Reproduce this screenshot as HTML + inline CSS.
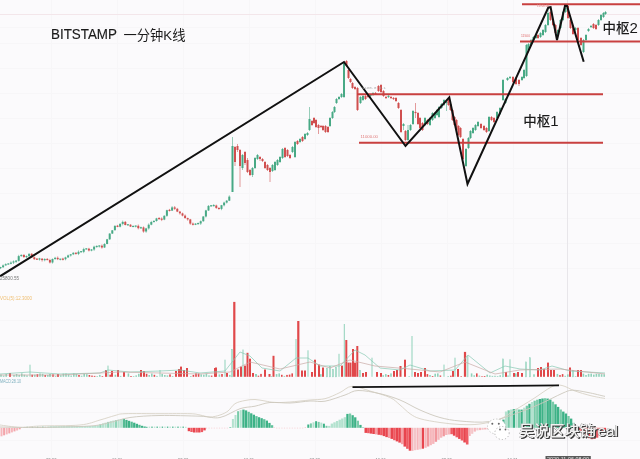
<!DOCTYPE html>
<html><head><meta charset="utf-8"><style>
html,body{margin:0;padding:0;background:#fbfafc;}
#wrap{position:relative;width:640px;height:459px;overflow:hidden;background:#fbfafc;}
.t{position:absolute;white-space:nowrap;font-family:"Liberation Sans","Noto Sans CJK SC",sans-serif;color:#1a1a1a;}
.wm{position:absolute;white-space:nowrap;font-family:"Liberation Sans","Noto Sans CJK SC",sans-serif;color:#f2f2f2;
  text-shadow:1px 1px 0 #3c3c3c,1.4px 1.4px 0.3px #555,-0.4px -0.4px 0 #9a9a9a;}
</style></head><body><div id="wrap">
<svg width="640" height="459" viewBox="0 0 640 459" style="position:absolute;left:0;top:0"><rect width="640" height="459" fill="#fbfafc"/><line x1="51.5" y1="0" x2="51.5" y2="459" stroke="#f7f6f8" stroke-width="1"/><line x1="117.5" y1="0" x2="117.5" y2="459" stroke="#f7f6f8" stroke-width="1"/><line x1="183.5" y1="0" x2="183.5" y2="459" stroke="#f7f6f8" stroke-width="1"/><line x1="249.5" y1="0" x2="249.5" y2="459" stroke="#f7f6f8" stroke-width="1"/><line x1="315.5" y1="0" x2="315.5" y2="459" stroke="#f7f6f8" stroke-width="1"/><line x1="381.5" y1="0" x2="381.5" y2="459" stroke="#f7f6f8" stroke-width="1"/><line x1="447.5" y1="0" x2="447.5" y2="459" stroke="#f7f6f8" stroke-width="1"/><line x1="513.5" y1="0" x2="513.5" y2="459" stroke="#f7f6f8" stroke-width="1"/><line x1="0" y1="27.5" x2="640" y2="27.5" stroke="#f7f6f8" stroke-width="1"/><line x1="0" y1="43.5" x2="640" y2="43.5" stroke="#f7f6f8" stroke-width="1"/><line x1="0" y1="68.5" x2="640" y2="68.5" stroke="#f7f6f8" stroke-width="1"/><line x1="0" y1="93.5" x2="640" y2="93.5" stroke="#f7f6f8" stroke-width="1"/><line x1="0" y1="118.5" x2="640" y2="118.5" stroke="#f7f6f8" stroke-width="1"/><line x1="0" y1="143.5" x2="640" y2="143.5" stroke="#f7f6f8" stroke-width="1"/><line x1="0" y1="168.5" x2="640" y2="168.5" stroke="#f7f6f8" stroke-width="1"/><line x1="0" y1="193.5" x2="640" y2="193.5" stroke="#f7f6f8" stroke-width="1"/><line x1="0" y1="218.5" x2="640" y2="218.5" stroke="#f7f6f8" stroke-width="1"/><line x1="0" y1="243.5" x2="640" y2="243.5" stroke="#f7f6f8" stroke-width="1"/><line x1="0" y1="268.5" x2="640" y2="268.5" stroke="#f7f6f8" stroke-width="1"/><line x1="0" y1="320.5" x2="640" y2="320.5" stroke="#f7f6f8" stroke-width="1"/><line x1="0" y1="345.5" x2="640" y2="345.5" stroke="#f7f6f8" stroke-width="1"/><line x1="0" y1="398.5" x2="640" y2="398.5" stroke="#f7f6f8" stroke-width="1"/><line x1="0" y1="412.5" x2="640" y2="412.5" stroke="#f7f6f8" stroke-width="1"/><line x1="0" y1="440.5" x2="640" y2="440.5" stroke="#f7f6f8" stroke-width="1"/><line x1="0" y1="14.5" x2="640" y2="14.5" stroke="#f3e6ea" stroke-width="1.2"/><line x1="567.5" y1="0" x2="567.5" y2="459" stroke="#e8e6ea" stroke-width="1"/><rect x="9.0" y="373.0" width="2" height="3.8" fill="#e0484a"/><rect x="29.5" y="364.7" width="1" height="12.1" fill="#8fd2ba"/><rect x="49.0" y="374.0" width="2" height="2.8" fill="#8fd2ba"/><rect x="57.0" y="374.0" width="2" height="2.8" fill="#e0484a"/><rect x="107.5" y="365.6" width="1" height="11.2" fill="#8fd2ba"/><rect x="105.0" y="370.0" width="2" height="6.8" fill="#e0484a"/><rect x="111.0" y="371.0" width="2" height="5.8" fill="#e0484a"/><rect x="117.0" y="370.0" width="2" height="6.8" fill="#e0484a"/><rect x="123.0" y="372.0" width="2" height="4.8" fill="#e0484a"/><rect x="140.0" y="370.0" width="2" height="6.8" fill="#e0484a"/><rect x="143.0" y="371.0" width="2" height="5.8" fill="#e0484a"/><rect x="159.5" y="370.0" width="1" height="6.8" fill="#8fd2ba"/><rect x="175.0" y="371.0" width="2" height="5.8" fill="#e0484a"/><rect x="178.0" y="369.0" width="2" height="7.8" fill="#e0484a"/><rect x="180.0" y="366.6" width="2" height="10.2" fill="#e0484a"/><rect x="183.0" y="370.0" width="2" height="6.8" fill="#e0484a"/><rect x="186.0" y="368.0" width="2" height="8.8" fill="#e0484a"/><rect x="214.0" y="368.0" width="2" height="8.8" fill="#e0484a"/><rect x="215.0" y="367.5" width="2" height="9.3" fill="#e0484a"/><rect x="224.5" y="359.7" width="1" height="17.1" fill="#8fd2ba"/><rect x="226.0" y="373.0" width="2" height="3.8" fill="#e0484a"/><rect x="231.6" y="349.3" width="0.9" height="27.5" fill="#e2f3ec" stroke="#86cdb5" stroke-width="0.6"/><rect x="233.2" y="301.9" width="2.2" height="74.9" fill="#e0484a"/><rect x="237.0" y="369.5" width="2" height="7.3" fill="#e0484a"/><rect x="240.0" y="366.6" width="2" height="10.2" fill="#e0484a"/><rect x="242.5" y="349.5" width="1" height="27.3" fill="#8fd2ba"/><rect x="244.0" y="365.6" width="2" height="11.2" fill="#e0484a"/><rect x="246.5" y="352.8" width="2" height="24.0" fill="#e0484a"/><rect x="249.0" y="358.7" width="2" height="18.1" fill="#e0484a"/><rect x="252.0" y="373.0" width="2" height="3.8" fill="#e0484a"/><rect x="255.0" y="374.0" width="2" height="2.8" fill="#8fd2ba"/><rect x="264.0" y="369.5" width="2" height="7.3" fill="#e0484a"/><rect x="268.5" y="374.0" width="2" height="2.8" fill="#e0484a"/><rect x="272.5" y="355.8" width="2" height="21.0" fill="#e0484a"/><rect x="295.5" y="339.0" width="1" height="37.8" fill="#8fd2ba"/><rect x="297.2" y="321.0" width="2.2" height="55.8" fill="#e0484a"/><rect x="301.0" y="370.5" width="2" height="6.3" fill="#e0484a"/><rect x="304.0" y="370.5" width="2" height="6.3" fill="#e0484a"/><rect x="307.5" y="350.3" width="1" height="26.5" fill="#8fd2ba"/><rect x="311.0" y="372.0" width="2" height="4.8" fill="#e0484a"/><rect x="314.0" y="359.7" width="2" height="17.1" fill="#e0484a"/><rect x="318.0" y="364.6" width="2" height="12.2" fill="#e0484a"/><rect x="322.0" y="367.5" width="2" height="9.3" fill="#e0484a"/><rect x="326.3" y="368.3" width="1.4" height="8.5" fill="#e2f3ec" stroke="#86cdb5" stroke-width="0.6"/><rect x="329.3" y="366.3" width="1.4" height="10.5" fill="#e2f3ec" stroke="#86cdb5" stroke-width="0.6"/><rect x="332.3" y="369.3" width="1.4" height="7.5" fill="#e2f3ec" stroke="#86cdb5" stroke-width="0.6"/><rect x="335.3" y="367.3" width="1.4" height="9.5" fill="#e2f3ec" stroke="#86cdb5" stroke-width="0.6"/><rect x="338.5" y="353.8" width="1" height="23.0" fill="#8fd2ba"/><rect x="341.0" y="365.6" width="2" height="11.2" fill="#e0484a"/><rect x="343.8" y="324.0" width="1" height="52.8" fill="#8fd2ba"/><rect x="345.3" y="340.0" width="2" height="36.8" fill="#e0484a"/><rect x="347.5" y="362.6" width="2" height="14.2" fill="#e0484a"/><rect x="349.5" y="362.6" width="2" height="14.2" fill="#e0484a"/><rect x="352.0" y="349.0" width="2" height="27.8" fill="#e0484a"/><rect x="354.0" y="362.6" width="2" height="14.2" fill="#e0484a"/><rect x="356.3" y="346.0" width="2" height="30.8" fill="#e0484a"/><rect x="359.3" y="370.3" width="1.4" height="6.5" fill="#e2f3ec" stroke="#86cdb5" stroke-width="0.6"/><rect x="362.0" y="373.0" width="2" height="3.8" fill="#e0484a"/><rect x="365.0" y="372.0" width="2" height="4.8" fill="#e0484a"/><rect x="371.5" y="357.7" width="1" height="19.1" fill="#8fd2ba"/><rect x="376.0" y="372.0" width="2" height="4.8" fill="#e0484a"/><rect x="380.0" y="373.0" width="2" height="3.8" fill="#e0484a"/><rect x="393.0" y="371.0" width="2" height="5.8" fill="#e0484a"/><rect x="396.0" y="370.0" width="2" height="6.8" fill="#e0484a"/><rect x="399.5" y="366.0" width="2" height="10.8" fill="#e0484a"/><rect x="404.0" y="359.7" width="2" height="17.1" fill="#e0484a"/><rect x="411.5" y="336.0" width="1" height="40.8" fill="#8fd2ba"/><rect x="414.0" y="372.0" width="2" height="4.8" fill="#e0484a"/><rect x="417.0" y="373.0" width="2" height="3.8" fill="#e0484a"/><rect x="420.0" y="372.0" width="2" height="4.8" fill="#e0484a"/><rect x="424.0" y="368.0" width="2" height="8.8" fill="#e0484a"/><rect x="443.5" y="364.6" width="1" height="12.2" fill="#8fd2ba"/><rect x="452.0" y="371.0" width="2" height="5.8" fill="#e0484a"/><rect x="454.5" y="357.7" width="1" height="19.1" fill="#8fd2ba"/><rect x="457.0" y="369.0" width="2" height="7.8" fill="#e0484a"/><rect x="463.9" y="351.9" width="2.2" height="24.9" fill="#e0484a"/><rect x="467.1" y="356.1" width="0.9" height="20.7" fill="#e2f3ec" stroke="#86cdb5" stroke-width="0.6"/><rect x="502.6" y="359.0" width="0.9" height="17.8" fill="#e2f3ec" stroke="#86cdb5" stroke-width="0.6"/><rect x="505.0" y="372.0" width="2" height="4.8" fill="#e0484a"/><rect x="509.5" y="359.3" width="1" height="17.5" fill="#8fd2ba"/><rect x="513.0" y="373.0" width="2" height="3.8" fill="#e0484a"/><rect x="517.0" y="372.0" width="2" height="4.8" fill="#e0484a"/><rect x="521.0" y="373.0" width="2" height="3.8" fill="#e0484a"/><rect x="525.5" y="362.0" width="0.9" height="14.8" fill="#e2f3ec" stroke="#86cdb5" stroke-width="0.6"/><rect x="529.5" y="357.7" width="0.9" height="19.1" fill="#e2f3ec" stroke="#86cdb5" stroke-width="0.6"/><rect x="537.0" y="368.0" width="2" height="8.8" fill="#e0484a"/><rect x="540.0" y="367.0" width="2" height="9.8" fill="#e0484a"/><rect x="543.0" y="369.0" width="2" height="7.8" fill="#e0484a"/><rect x="547.0" y="362.6" width="2" height="14.2" fill="#e0484a"/><rect x="550.0" y="370.0" width="2" height="6.8" fill="#e0484a"/><rect x="553.0" y="370.0" width="2" height="6.8" fill="#e0484a"/><rect x="569.0" y="367.5" width="2" height="9.3" fill="#e0484a"/><rect x="572.5" y="370.3" width="0.9" height="6.5" fill="#e2f3ec" stroke="#86cdb5" stroke-width="0.6"/><rect x="577.0" y="370.0" width="2" height="6.8" fill="#e0484a"/><rect x="580.0" y="370.0" width="2" height="6.8" fill="#e0484a"/><rect x="0.2" y="374.6" width="1.6" height="2.2" fill="#8fd2ba"/><rect x="2.8" y="375.6" width="1.6" height="1.2" fill="#8fd2ba"/><rect x="5.4" y="374.0" width="1.6" height="2.8" fill="#8fd2ba"/><rect x="13.2" y="374.9" width="1.6" height="1.9" fill="#8fd2ba"/><rect x="15.8" y="374.0" width="1.6" height="2.8" fill="#8fd2ba"/><rect x="18.4" y="374.9" width="1.6" height="1.9" fill="#8fd2ba"/><rect x="21.0" y="373.4" width="1.6" height="3.4" fill="#8fd2ba"/><rect x="23.6" y="374.7" width="1.6" height="2.1" fill="#8fd2ba"/><rect x="26.2" y="375.4" width="1.6" height="1.4" fill="#8fd2ba"/><rect x="31.4" y="374.7" width="1.6" height="2.1" fill="#e0484a"/><rect x="34.0" y="374.7" width="1.6" height="2.1" fill="#8fd2ba"/><rect x="36.6" y="374.2" width="1.6" height="2.6" fill="#e0484a"/><rect x="39.2" y="373.5" width="1.6" height="3.3" fill="#8fd2ba"/><rect x="41.8" y="373.8" width="1.6" height="3.0" fill="#8fd2ba"/><rect x="44.4" y="375.0" width="1.6" height="1.8" fill="#e0484a"/><rect x="47.0" y="374.9" width="1.6" height="1.9" fill="#8fd2ba"/><rect x="52.2" y="374.3" width="1.6" height="2.5" fill="#e0484a"/><rect x="54.8" y="376.0" width="1.6" height="0.8" fill="#8fd2ba"/><rect x="60.0" y="375.3" width="1.6" height="1.5" fill="#8fd2ba"/><rect x="62.6" y="373.6" width="1.6" height="3.2" fill="#8fd2ba"/><rect x="65.2" y="373.5" width="1.6" height="3.3" fill="#8fd2ba"/><rect x="67.8" y="374.3" width="1.6" height="2.5" fill="#8fd2ba"/><rect x="70.4" y="375.5" width="1.6" height="1.3" fill="#8fd2ba"/><rect x="73.0" y="373.4" width="1.6" height="3.4" fill="#8fd2ba"/><rect x="75.6" y="374.0" width="1.6" height="2.8" fill="#8fd2ba"/><rect x="78.2" y="375.0" width="1.6" height="1.8" fill="#e0484a"/><rect x="80.8" y="375.7" width="1.6" height="1.1" fill="#8fd2ba"/><rect x="83.4" y="373.8" width="1.6" height="3.0" fill="#8fd2ba"/><rect x="86.0" y="374.2" width="1.6" height="2.6" fill="#8fd2ba"/><rect x="88.6" y="375.0" width="1.6" height="1.8" fill="#e0484a"/><rect x="91.2" y="375.6" width="1.6" height="1.2" fill="#e0484a"/><rect x="93.8" y="375.9" width="1.6" height="0.9" fill="#e0484a"/><rect x="96.4" y="376.1" width="1.6" height="0.7" fill="#8fd2ba"/><rect x="99.0" y="374.9" width="1.6" height="1.9" fill="#8fd2ba"/><rect x="101.6" y="376.1" width="1.6" height="0.7" fill="#e0484a"/><rect x="109.4" y="374.7" width="1.6" height="2.1" fill="#e0484a"/><rect x="114.6" y="374.7" width="1.6" height="2.1" fill="#8fd2ba"/><rect x="119.8" y="375.9" width="1.6" height="0.9" fill="#8fd2ba"/><rect x="127.6" y="373.4" width="1.6" height="3.4" fill="#8fd2ba"/><rect x="130.2" y="376.0" width="1.6" height="0.8" fill="#e0484a"/><rect x="132.8" y="376.1" width="1.6" height="0.7" fill="#8fd2ba"/><rect x="135.4" y="375.4" width="1.6" height="1.4" fill="#8fd2ba"/><rect x="138.0" y="373.8" width="1.6" height="3.0" fill="#8fd2ba"/><rect x="145.8" y="373.8" width="1.6" height="3.0" fill="#e0484a"/><rect x="148.4" y="375.0" width="1.6" height="1.8" fill="#8fd2ba"/><rect x="151.0" y="373.5" width="1.6" height="3.3" fill="#8fd2ba"/><rect x="153.6" y="374.8" width="1.6" height="2.0" fill="#e0484a"/><rect x="156.2" y="375.9" width="1.6" height="0.9" fill="#8fd2ba"/><rect x="161.4" y="373.9" width="1.6" height="2.9" fill="#8fd2ba"/><rect x="164.0" y="375.0" width="1.6" height="1.8" fill="#8fd2ba"/><rect x="166.6" y="375.4" width="1.6" height="1.4" fill="#8fd2ba"/><rect x="169.2" y="374.4" width="1.6" height="2.4" fill="#e0484a"/><rect x="171.8" y="376.0" width="1.6" height="0.8" fill="#8fd2ba"/><rect x="190.0" y="376.0" width="1.6" height="0.8" fill="#8fd2ba"/><rect x="192.6" y="374.9" width="1.6" height="1.9" fill="#e0484a"/><rect x="195.2" y="373.3" width="1.6" height="3.5" fill="#e0484a"/><rect x="197.8" y="373.5" width="1.6" height="3.3" fill="#e0484a"/><rect x="200.4" y="374.4" width="1.6" height="2.4" fill="#8fd2ba"/><rect x="203.0" y="374.7" width="1.6" height="2.1" fill="#8fd2ba"/><rect x="205.6" y="373.5" width="1.6" height="3.3" fill="#8fd2ba"/><rect x="208.2" y="375.4" width="1.6" height="1.4" fill="#8fd2ba"/><rect x="210.8" y="375.6" width="1.6" height="1.2" fill="#e0484a"/><rect x="218.6" y="374.4" width="1.6" height="2.4" fill="#8fd2ba"/><rect x="221.2" y="374.0" width="1.6" height="2.8" fill="#e0484a"/><rect x="229.0" y="374.9" width="1.6" height="1.9" fill="#8fd2ba"/><rect x="257.6" y="375.7" width="1.6" height="1.1" fill="#e0484a"/><rect x="260.2" y="373.9" width="1.6" height="2.9" fill="#e0484a"/><rect x="270.6" y="376.1" width="1.6" height="0.7" fill="#8fd2ba"/><rect x="275.8" y="374.1" width="1.6" height="2.7" fill="#8fd2ba"/><rect x="278.4" y="373.4" width="1.6" height="3.4" fill="#8fd2ba"/><rect x="281.0" y="374.8" width="1.6" height="2.0" fill="#e0484a"/><rect x="283.6" y="375.9" width="1.6" height="0.9" fill="#8fd2ba"/><rect x="286.2" y="374.9" width="1.6" height="1.9" fill="#e0484a"/><rect x="288.8" y="374.6" width="1.6" height="2.2" fill="#e0484a"/><rect x="291.4" y="373.4" width="1.6" height="3.4" fill="#e0484a"/><rect x="320.0" y="374.2" width="1.6" height="2.6" fill="#8fd2ba"/><rect x="382.4" y="375.2" width="1.6" height="1.6" fill="#8fd2ba"/><rect x="385.0" y="374.1" width="1.6" height="2.7" fill="#8fd2ba"/><rect x="387.6" y="375.0" width="1.6" height="1.8" fill="#e0484a"/><rect x="390.2" y="373.4" width="1.6" height="3.4" fill="#8fd2ba"/><rect x="408.4" y="376.2" width="1.6" height="0.6" fill="#8fd2ba"/><rect x="426.6" y="374.1" width="1.6" height="2.7" fill="#e0484a"/><rect x="429.2" y="375.0" width="1.6" height="1.8" fill="#8fd2ba"/><rect x="431.8" y="376.0" width="1.6" height="0.8" fill="#e0484a"/><rect x="434.4" y="373.7" width="1.6" height="3.1" fill="#8fd2ba"/><rect x="437.0" y="373.4" width="1.6" height="3.4" fill="#8fd2ba"/><rect x="439.6" y="375.5" width="1.6" height="1.3" fill="#e0484a"/><rect x="447.4" y="376.1" width="1.6" height="0.7" fill="#8fd2ba"/><rect x="450.0" y="375.7" width="1.6" height="1.1" fill="#e0484a"/><rect x="460.4" y="376.2" width="1.6" height="0.6" fill="#e0484a"/><rect x="470.8" y="373.4" width="1.6" height="3.4" fill="#8fd2ba"/><rect x="473.4" y="375.3" width="1.6" height="1.5" fill="#8fd2ba"/><rect x="476.0" y="373.4" width="1.6" height="3.4" fill="#e0484a"/><rect x="478.6" y="375.6" width="1.6" height="1.2" fill="#8fd2ba"/><rect x="481.2" y="376.2" width="1.6" height="0.6" fill="#e0484a"/><rect x="483.8" y="376.0" width="1.6" height="0.8" fill="#e0484a"/><rect x="486.4" y="374.7" width="1.6" height="2.1" fill="#8fd2ba"/><rect x="489.0" y="375.5" width="1.6" height="1.3" fill="#8fd2ba"/><rect x="491.6" y="375.9" width="1.6" height="0.9" fill="#8fd2ba"/><rect x="494.2" y="375.8" width="1.6" height="1.0" fill="#8fd2ba"/><rect x="496.8" y="376.1" width="1.6" height="0.7" fill="#8fd2ba"/><rect x="499.4" y="375.3" width="1.6" height="1.5" fill="#8fd2ba"/><rect x="507.2" y="375.5" width="1.6" height="1.3" fill="#8fd2ba"/><rect x="515.0" y="373.4" width="1.6" height="3.4" fill="#8fd2ba"/><rect x="533.2" y="374.3" width="1.6" height="2.5" fill="#8fd2ba"/><rect x="556.6" y="373.9" width="1.6" height="2.9" fill="#8fd2ba"/><rect x="559.2" y="375.1" width="1.6" height="1.7" fill="#e0484a"/><rect x="561.8" y="374.1" width="1.6" height="2.7" fill="#e0484a"/><rect x="564.4" y="375.8" width="1.6" height="1.0" fill="#8fd2ba"/><rect x="567.0" y="374.4" width="1.6" height="2.4" fill="#8fd2ba"/><rect x="574.8" y="376.1" width="1.6" height="0.7" fill="#8fd2ba"/><rect x="582.6" y="373.6" width="1.6" height="3.2" fill="#8fd2ba"/><rect x="585.2" y="375.0" width="1.6" height="1.8" fill="#8fd2ba"/><rect x="587.8" y="373.8" width="1.6" height="3.0" fill="#8fd2ba"/><rect x="590.4" y="373.6" width="1.6" height="3.2" fill="#8fd2ba"/><rect x="593.0" y="374.6" width="1.6" height="2.2" fill="#8fd2ba"/><rect x="595.6" y="373.8" width="1.6" height="3.0" fill="#8fd2ba"/><rect x="598.2" y="373.9" width="1.6" height="2.9" fill="#8fd2ba"/><rect x="600.8" y="374.2" width="1.6" height="2.6" fill="#8fd2ba"/><rect x="603.4" y="374.3" width="1.6" height="2.5" fill="#8fd2ba"/><polyline points="0,374 30,372 60,374 100,373 108,370 130,372 160,371 180,370 200,373 225,371 240,352 250,356 262,368 280,371 296,358 308,358 320,366 340,366 355,350 365,355 380,368 400,370 410,365 430,371 455,370 468,355 490,373 505,366 520,369 540,370 552,366 570,371 605,373" fill="none" stroke="#86c9b3" stroke-width="0.7"/><polyline points="0,375 60,375 120,372 200,374 230,372 250,362 280,369 310,362 330,368 350,360 375,366 410,369 440,372 465,362 495,374 520,370 560,369 605,374" fill="none" stroke="#c9a9a5" stroke-width="0.7"/><rect x="0.5" y="427.8" width="2.0" height="8.5" fill="#f6b6bb"/><rect x="3.1" y="427.8" width="2.0" height="7.5" fill="#f3a4aa"/><rect x="5.7" y="427.8" width="2.0" height="6.6" fill="#f6b6bb"/><rect x="8.3" y="427.8" width="2.0" height="5.6" fill="#f3a4aa"/><rect x="10.9" y="427.8" width="2.0" height="4.6" fill="#f6b6bb"/><rect x="13.5" y="427.8" width="2.0" height="3.6" fill="#f3a4aa"/><rect x="16.1" y="427.8" width="2.0" height="2.7" fill="#f6b6bb"/><rect x="18.7" y="427.8" width="2.0" height="1.5" fill="#f3a4aa"/><rect x="23.9" y="426.9" width="1.4" height="0.9" fill="#b3e2cf"/><rect x="26.5" y="426.8" width="1.4" height="1.0" fill="#3db287"/><rect x="29.1" y="426.8" width="1.4" height="1.0" fill="#b3e2cf"/><rect x="31.7" y="426.7" width="1.4" height="1.1" fill="#3db287"/><rect x="34.3" y="426.7" width="1.4" height="1.1" fill="#b3e2cf"/><rect x="36.9" y="426.7" width="1.4" height="1.1" fill="#3db287"/><rect x="39.5" y="426.7" width="1.4" height="1.1" fill="#b3e2cf"/><rect x="42.1" y="426.6" width="1.4" height="1.2" fill="#3db287"/><rect x="44.7" y="426.6" width="1.4" height="1.2" fill="#b3e2cf"/><rect x="47.3" y="426.5" width="2.4" height="1.3" fill="#b3e2cf"/><rect x="49.9" y="426.2" width="2.4" height="1.6" fill="#b3e2cf"/><rect x="52.5" y="426.2" width="2.4" height="1.6" fill="#b3e2cf"/><rect x="55.1" y="426.2" width="2.4" height="1.6" fill="#b3e2cf"/><rect x="57.7" y="426.2" width="2.4" height="1.6" fill="#b3e2cf"/><rect x="60.3" y="426.1" width="2.4" height="1.7" fill="#b3e2cf"/><rect x="62.9" y="426.1" width="2.4" height="1.7" fill="#b3e2cf"/><rect x="65.5" y="426.1" width="2.4" height="1.7" fill="#b3e2cf"/><rect x="68.1" y="426.1" width="2.4" height="1.7" fill="#b3e2cf"/><rect x="70.7" y="426.1" width="2.4" height="1.7" fill="#b3e2cf"/><rect x="73.3" y="426.1" width="2.4" height="1.7" fill="#b3e2cf"/><rect x="75.9" y="426.1" width="2.4" height="1.7" fill="#b3e2cf"/><rect x="78.5" y="426.1" width="2.4" height="1.7" fill="#b3e2cf"/><rect x="81.1" y="426.1" width="2.4" height="1.7" fill="#b3e2cf"/><rect x="83.7" y="426.0" width="2.4" height="1.8" fill="#b3e2cf"/><rect x="86.3" y="426.0" width="2.4" height="1.8" fill="#b3e2cf"/><rect x="88.9" y="426.0" width="2.4" height="1.8" fill="#b3e2cf"/><rect x="91.5" y="426.0" width="2.4" height="1.8" fill="#b3e2cf"/><rect x="94.1" y="426.0" width="2.4" height="1.8" fill="#b3e2cf"/><rect x="96.7" y="425.3" width="2.2" height="2.5" fill="#b3e2cf"/><rect x="99.3" y="424.3" width="2.2" height="3.5" fill="#8fd4b8"/><rect x="101.9" y="423.4" width="2.2" height="4.4" fill="#b3e2cf"/><rect x="104.5" y="422.7" width="2.2" height="5.1" fill="#b3e2cf"/><rect x="107.1" y="421.9" width="2.2" height="5.9" fill="#8fd4b8"/><rect x="109.7" y="421.1" width="2.2" height="6.7" fill="#b3e2cf"/><rect x="112.3" y="420.6" width="2.2" height="7.2" fill="#b3e2cf"/><rect x="114.9" y="420.1" width="2.2" height="7.7" fill="#8fd4b8"/><rect x="117.5" y="419.6" width="2.2" height="8.2" fill="#b3e2cf"/><rect x="120.1" y="419.1" width="2.2" height="8.7" fill="#b3e2cf"/><rect x="122.7" y="418.9" width="2.3" height="8.9" fill="#55bc94"/><rect x="125.3" y="419.9" width="2.3" height="7.9" fill="#3db287"/><rect x="127.9" y="420.8" width="2.3" height="7.0" fill="#3db287"/><rect x="130.5" y="421.7" width="2.3" height="6.1" fill="#55bc94"/><rect x="133.1" y="422.7" width="2.3" height="5.1" fill="#3db287"/><rect x="135.7" y="423.8" width="2.3" height="4.0" fill="#3db287"/><rect x="138.3" y="424.8" width="2.3" height="3.0" fill="#55bc94"/><rect x="140.9" y="425.8" width="2.3" height="2.0" fill="#3db287"/><rect x="143.5" y="426.5" width="2.3" height="1.3" fill="#3db287"/><rect x="146.1" y="426.8" width="1.4" height="1.0" fill="#3db287"/><rect x="148.7" y="426.6" width="1.4" height="1.2" fill="#b3e2cf"/><rect x="151.3" y="426.6" width="1.4" height="1.2" fill="#3db287"/><rect x="153.9" y="426.6" width="1.4" height="1.2" fill="#b3e2cf"/><rect x="156.5" y="426.6" width="1.4" height="1.2" fill="#3db287"/><rect x="159.1" y="426.6" width="1.4" height="1.2" fill="#b3e2cf"/><rect x="161.7" y="426.6" width="1.4" height="1.2" fill="#3db287"/><rect x="164.3" y="426.6" width="1.4" height="1.2" fill="#b3e2cf"/><rect x="166.9" y="426.6" width="1.4" height="1.2" fill="#3db287"/><rect x="169.5" y="426.6" width="1.4" height="1.2" fill="#b3e2cf"/><rect x="172.1" y="426.6" width="1.4" height="1.2" fill="#3db287"/><rect x="174.7" y="426.6" width="1.4" height="1.2" fill="#b3e2cf"/><rect x="177.3" y="426.6" width="1.4" height="1.2" fill="#3db287"/><rect x="179.9" y="426.6" width="1.4" height="1.2" fill="#b3e2cf"/><rect x="182.5" y="426.6" width="1.4" height="1.2" fill="#3db287"/><rect x="185.1" y="426.8" width="1.4" height="1.0" fill="#b3e2cf"/><rect x="187.7" y="427.8" width="2.4" height="3.4" fill="#e8454e"/><rect x="190.3" y="427.8" width="2.4" height="4.2" fill="#ef5a63"/><rect x="192.9" y="427.8" width="2.4" height="4.7" fill="#e8454e"/><rect x="195.5" y="427.8" width="2.4" height="4.7" fill="#ef5a63"/><rect x="198.1" y="427.8" width="2.4" height="4.7" fill="#e8454e"/><rect x="200.7" y="427.8" width="2.4" height="4.3" fill="#ef5a63"/><rect x="203.3" y="427.8" width="2.4" height="2.6" fill="#e8454e"/><rect x="205.9" y="427.8" width="1.2" height="0.6" fill="#f6b6bb"/><rect x="208.5" y="427.8" width="1.2" height="0.5" fill="#f6b6bb"/><rect x="211.1" y="427.8" width="1.2" height="0.5" fill="#f6b6bb"/><rect x="213.7" y="427.8" width="1.2" height="0.5" fill="#f6b6bb"/><rect x="216.3" y="427.8" width="1.2" height="0.5" fill="#f6b6bb"/><rect x="218.9" y="427.8" width="1.2" height="0.5" fill="#f6b6bb"/><rect x="221.5" y="427.8" width="1.2" height="0.5" fill="#f6b6bb"/><rect x="224.1" y="427.8" width="1.2" height="0.5" fill="#f6b6bb"/><rect x="226.7" y="427.8" width="1.2" height="0.5" fill="#f6b6bb"/><rect x="229.3" y="427.0" width="2.0" height="0.8" fill="#79cba9"/><rect x="231.9" y="419.0" width="2.0" height="8.8" fill="#b3e2cf"/><rect x="234.5" y="415.0" width="2.0" height="12.8" fill="#b3e2cf"/><rect x="237.1" y="411.2" width="2.0" height="16.6" fill="#79cba9"/><rect x="239.7" y="410.1" width="2.0" height="17.7" fill="#b3e2cf"/><rect x="242.3" y="409.6" width="2.3" height="18.2" fill="#3db287"/><rect x="244.9" y="410.4" width="2.3" height="17.4" fill="#3db287"/><rect x="247.5" y="411.8" width="2.3" height="16.0" fill="#5fc19b"/><rect x="250.1" y="413.3" width="2.3" height="14.5" fill="#3db287"/><rect x="252.7" y="414.7" width="2.3" height="13.1" fill="#3db287"/><rect x="255.3" y="416.1" width="2.3" height="11.7" fill="#5fc19b"/><rect x="257.9" y="417.2" width="2.3" height="10.6" fill="#3db287"/><rect x="260.5" y="418.2" width="2.3" height="9.6" fill="#3db287"/><rect x="263.1" y="419.2" width="2.3" height="8.6" fill="#5fc19b"/><rect x="265.7" y="420.6" width="2.3" height="7.2" fill="#3db287"/><rect x="268.3" y="422.9" width="2.3" height="4.9" fill="#3db287"/><rect x="270.9" y="425.2" width="2.3" height="2.6" fill="#5fc19b"/><rect x="273.5" y="427.2" width="1.2" height="0.6" fill="#f6b6bb"/><rect x="276.1" y="427.8" width="1.2" height="0.5" fill="#f6b6bb"/><rect x="278.7" y="427.8" width="1.2" height="0.5" fill="#f6b6bb"/><rect x="281.3" y="427.8" width="1.2" height="0.5" fill="#f6b6bb"/><rect x="283.9" y="427.8" width="1.2" height="0.5" fill="#f6b6bb"/><rect x="286.5" y="427.8" width="1.2" height="0.5" fill="#f6b6bb"/><rect x="289.1" y="427.8" width="1.2" height="0.5" fill="#f6b6bb"/><rect x="291.7" y="427.8" width="1.2" height="0.5" fill="#f6b6bb"/><rect x="294.3" y="427.8" width="1.2" height="0.5" fill="#f6b6bb"/><rect x="296.9" y="427.8" width="1.2" height="0.5" fill="#f6b6bb"/><rect x="299.5" y="427.8" width="1.2" height="0.5" fill="#f6b6bb"/><rect x="302.1" y="427.8" width="1.2" height="0.5" fill="#f6b6bb"/><rect x="304.7" y="427.1" width="1.2" height="0.7" fill="#f6b6bb"/><rect x="307.3" y="424.5" width="2.0" height="3.3" fill="#3db287"/><rect x="309.9" y="423.4" width="2.0" height="4.4" fill="#79cba9"/><rect x="312.5" y="422.3" width="2.0" height="5.5" fill="#b3e2cf"/><rect x="315.1" y="421.2" width="2.0" height="6.6" fill="#3db287"/><rect x="317.7" y="421.9" width="2.0" height="5.9" fill="#79cba9"/><rect x="320.3" y="422.6" width="2.0" height="5.2" fill="#b3e2cf"/><rect x="322.9" y="423.7" width="2.0" height="4.1" fill="#3db287"/><rect x="325.5" y="425.8" width="2.0" height="2.0" fill="#79cba9"/><rect x="328.1" y="425.9" width="2.4" height="1.9" fill="#b3e2cf"/><rect x="330.7" y="423.6" width="2.4" height="4.2" fill="#b3e2cf"/><rect x="333.3" y="422.3" width="2.4" height="5.5" fill="#b3e2cf"/><rect x="335.9" y="421.0" width="2.4" height="6.8" fill="#b3e2cf"/><rect x="338.5" y="419.7" width="2.4" height="8.1" fill="#b3e2cf"/><rect x="341.1" y="418.5" width="2.4" height="9.3" fill="#b3e2cf"/><rect x="343.7" y="417.2" width="2.4" height="10.6" fill="#b3e2cf"/><rect x="346.3" y="413.9" width="2.3" height="13.9" fill="#3db287"/><rect x="348.9" y="413.5" width="2.3" height="14.3" fill="#79cba9"/><rect x="351.5" y="415.2" width="2.3" height="12.6" fill="#3db287"/><rect x="354.1" y="417.3" width="2.3" height="10.5" fill="#3db287"/><rect x="356.7" y="420.7" width="2.3" height="7.1" fill="#79cba9"/><rect x="359.3" y="424.9" width="2.3" height="2.9" fill="#3db287"/><rect x="361.9" y="427.4" width="2.3" height="0.4" fill="#3db287"/><rect x="364.5" y="427.8" width="2.6" height="5.1" fill="#e8454e"/><rect x="367.1" y="427.8" width="2.6" height="5.4" fill="#ef5a63"/><rect x="369.7" y="427.8" width="2.6" height="5.8" fill="#e8454e"/><rect x="372.3" y="427.8" width="2.6" height="6.2" fill="#e8454e"/><rect x="374.9" y="427.8" width="2.6" height="6.6" fill="#f5a0a6"/><rect x="377.5" y="427.8" width="2.6" height="7.0" fill="#e8454e"/><rect x="380.1" y="427.8" width="2.6" height="7.4" fill="#ef5a63"/><rect x="382.7" y="427.8" width="2.6" height="8.3" fill="#e8454e"/><rect x="385.3" y="427.8" width="2.6" height="9.3" fill="#e8454e"/><rect x="387.9" y="427.8" width="2.6" height="10.2" fill="#f5a0a6"/><rect x="390.5" y="427.8" width="2.6" height="11.1" fill="#e8454e"/><rect x="393.1" y="427.8" width="2.6" height="12.4" fill="#ef5a63"/><rect x="395.7" y="427.8" width="2.6" height="13.6" fill="#e8454e"/><rect x="398.3" y="427.8" width="2.6" height="14.8" fill="#e8454e"/><rect x="400.9" y="427.8" width="2.6" height="16.4" fill="#f5a0a6"/><rect x="403.5" y="427.8" width="2.6" height="18.8" fill="#e8454e"/><rect x="406.1" y="427.8" width="2.6" height="21.0" fill="#ef5a63"/><rect x="408.7" y="427.8" width="2.6" height="22.9" fill="#e8454e"/><rect x="411.3" y="427.8" width="2.2" height="23.1" fill="#f6b6bb"/><rect x="413.9" y="427.8" width="2.2" height="22.4" fill="#f4c6c9"/><rect x="416.5" y="427.8" width="2.2" height="22.0" fill="#f6b6bb"/><rect x="419.1" y="427.8" width="2.2" height="21.6" fill="#f4c6c9"/><rect x="421.7" y="427.8" width="2.3" height="20.9" fill="#e8454e"/><rect x="424.3" y="427.8" width="2.4" height="20.0" fill="#f6b6bb"/><rect x="426.9" y="427.8" width="2.4" height="18.7" fill="#f1989e"/><rect x="429.5" y="427.8" width="2.4" height="17.4" fill="#f6b6bb"/><rect x="432.1" y="427.8" width="2.4" height="16.1" fill="#f6b6bb"/><rect x="434.7" y="427.8" width="2.4" height="14.0" fill="#f1989e"/><rect x="437.3" y="427.8" width="2.4" height="12.0" fill="#f6b6bb"/><rect x="439.9" y="427.8" width="2.4" height="9.9" fill="#f6b6bb"/><rect x="442.5" y="427.8" width="2.4" height="8.5" fill="#f1989e"/><rect x="445.1" y="427.8" width="2.4" height="7.2" fill="#f6b6bb"/><rect x="447.7" y="427.8" width="2.4" height="6.7" fill="#f6b6bb"/><rect x="450.3" y="427.8" width="2.6" height="6.4" fill="#ef5a63"/><rect x="452.9" y="427.8" width="2.6" height="7.9" fill="#e8454e"/><rect x="455.5" y="427.8" width="2.6" height="9.5" fill="#ef5a63"/><rect x="458.1" y="427.8" width="2.6" height="11.1" fill="#e8454e"/><rect x="460.7" y="427.8" width="2.6" height="12.7" fill="#ef5a63"/><rect x="463.3" y="427.8" width="2.6" height="14.7" fill="#e8454e"/><rect x="465.9" y="427.8" width="2.6" height="16.7" fill="#ef5a63"/><rect x="468.5" y="427.8" width="2.2" height="8.2" fill="#f6b6bb"/><rect x="471.1" y="427.8" width="2.2" height="6.0" fill="#f4c6c9"/><rect x="473.7" y="427.8" width="2.2" height="3.8" fill="#f6b6bb"/><rect x="476.3" y="427.8" width="2.2" height="2.6" fill="#f4c6c9"/><rect x="478.9" y="427.8" width="2.2" height="2.3" fill="#f6b6bb"/><rect x="481.5" y="427.8" width="2.2" height="2.0" fill="#f4c6c9"/><rect x="484.1" y="427.8" width="2.2" height="1.7" fill="#f6b6bb"/><rect x="486.7" y="427.8" width="2.2" height="1.5" fill="#f4c6c9"/><rect x="489.3" y="427.8" width="2.2" height="1.3" fill="#f6b6bb"/><rect x="491.9" y="427.8" width="2.2" height="1.1" fill="#f4c6c9"/><rect x="494.5" y="427.8" width="1.5" height="0.9" fill="#f6b6bb"/><rect x="497.1" y="427.8" width="1.5" height="0.7" fill="#f6b6bb"/><rect x="499.7" y="427.8" width="1.5" height="0.5" fill="#f6b6bb"/><rect x="502.3" y="419.6" width="2.3" height="8.2" fill="#3db287"/><rect x="504.9" y="411.5" width="2.3" height="16.3" fill="#b3e2cf"/><rect x="507.5" y="410.3" width="2.3" height="17.5" fill="#79cba9"/><rect x="510.1" y="409.5" width="2.3" height="18.3" fill="#b3e2cf"/><rect x="512.7" y="409.1" width="2.3" height="18.7" fill="#3db287"/><rect x="515.3" y="408.8" width="2.3" height="19.0" fill="#b3e2cf"/><rect x="517.9" y="409.5" width="2.3" height="18.3" fill="#79cba9"/><rect x="520.5" y="409.6" width="2.3" height="18.2" fill="#3db287"/><rect x="523.1" y="407.6" width="2.3" height="20.2" fill="#b3e2cf"/><rect x="525.7" y="405.7" width="2.3" height="22.1" fill="#79cba9"/><rect x="528.3" y="403.8" width="2.3" height="24.0" fill="#3db287"/><rect x="530.9" y="402.0" width="2.3" height="25.8" fill="#b3e2cf"/><rect x="533.5" y="400.7" width="2.3" height="27.1" fill="#79cba9"/><rect x="536.1" y="399.7" width="2.4" height="28.1" fill="#79cba9"/><rect x="538.7" y="399.0" width="2.4" height="28.8" fill="#3db287"/><rect x="541.3" y="398.5" width="2.4" height="29.3" fill="#3db287"/><rect x="543.9" y="398.2" width="2.4" height="29.6" fill="#79cba9"/><rect x="546.5" y="398.6" width="2.4" height="29.2" fill="#3db287"/><rect x="549.1" y="399.6" width="2.4" height="28.2" fill="#3db287"/><rect x="551.7" y="401.7" width="2.4" height="26.1" fill="#79cba9"/><rect x="554.3" y="404.3" width="2.4" height="23.5" fill="#3db287"/><rect x="556.9" y="406.9" width="2.4" height="20.9" fill="#3db287"/><rect x="559.5" y="409.5" width="2.4" height="18.3" fill="#79cba9"/><rect x="562.1" y="411.6" width="2.4" height="16.2" fill="#3db287"/><rect x="564.7" y="413.5" width="2.4" height="14.3" fill="#3db287"/><rect x="567.3" y="416.0" width="2.4" height="11.8" fill="#79cba9"/><rect x="569.9" y="418.6" width="2.4" height="9.2" fill="#3db287"/><rect x="572.5" y="422.9" width="2.4" height="4.9" fill="#3db287"/><rect x="575.1" y="426.9" width="2.4" height="0.9" fill="#79cba9"/><rect x="577.7" y="427.8" width="2.4" height="2.1" fill="#e8454e"/><rect x="580.3" y="427.8" width="2.4" height="4.5" fill="#ef5a63"/><rect x="582.9" y="427.8" width="2.4" height="6.8" fill="#e8454e"/><rect x="585.5" y="427.8" width="2.4" height="9.0" fill="#ef5a63"/><rect x="588.1" y="427.8" width="2.4" height="10.4" fill="#e8454e"/><rect x="590.7" y="427.8" width="2.4" height="11.4" fill="#ef5a63"/><rect x="593.3" y="427.8" width="2.4" height="11.0" fill="#e8454e"/><rect x="595.9" y="427.8" width="2.4" height="9.9" fill="#ef5a63"/><rect x="598.5" y="427.8" width="2.4" height="7.5" fill="#e8454e"/><rect x="601.1" y="427.8" width="2.4" height="5.1" fill="#ef5a63"/><rect x="603.7" y="427.8" width="2.4" height="2.5" fill="#e8454e"/><path d="M0,425 C3.3,425.4 13.3,427.1 20,427.3 C26.7,427.5 30.0,426.4 40,426 C50.0,425.6 70.0,426.0 80,425 C90.0,424.0 94.2,421.6 100,420 C105.8,418.4 110.8,416.6 115,415.5 C119.2,414.4 117.5,414.0 125,413.7 C132.5,413.4 149.2,413.7 160,413.7 C170.8,413.7 183.3,413.5 190,413.7 C196.7,413.9 196.7,414.4 200,415 C203.3,415.6 206.7,417.0 210,417 C213.3,417.0 217.0,416.0 220,415 C223.0,414.0 225.5,412.9 228,411 C230.5,409.1 232.2,405.4 235,403.7 C237.8,401.9 241.7,401.2 245,400.5 C248.3,399.8 251.7,399.4 255,399.5 C258.3,399.6 261.7,400.5 265,401 C268.3,401.5 270.8,402.3 275,402.5 C279.2,402.7 284.2,402.4 290,402 C295.8,401.6 304.2,400.6 310,400 C315.8,399.4 320.0,399.9 325,398.7 C330.0,397.4 335.5,394.6 340,392.5 C344.5,390.4 347.0,386.6 352,386.3 C357.0,386.1 363.7,389.1 370,391 C376.3,392.9 385.0,395.2 390,397.5 C395.0,399.8 396.7,402.3 400,405 C403.3,407.7 406.7,411.4 410,413.7 C413.3,416.0 415.0,417.2 420,418.7 C425.0,420.2 433.3,421.5 440,422.5 C446.7,423.5 453.3,424.2 460,424.5 C466.7,424.8 473.3,424.9 480,424 C486.7,423.1 494.2,421.3 500,419 C505.8,416.7 509.5,413.3 515,410 C520.5,406.7 526.8,402.9 533,399 C539.2,395.1 547.2,388.9 552,386.6 C556.8,384.4 558.2,384.8 562,385.5 C565.8,386.2 570.3,389.3 575,391 C579.7,392.7 585.0,394.2 590,395.5 C595.0,396.8 602.5,398.0 605,398.5" fill="none" stroke="#d8d3c6" stroke-width="0.9"/><path d="M0,427 C6.7,427.1 25.0,427.7 40,427.5 C55.0,427.3 78.3,426.8 90,426 C101.7,425.2 103.3,423.9 110,422.5 C116.7,421.1 121.7,418.7 130,417.5 C138.3,416.3 148.3,415.7 160,415.5 C171.7,415.3 190.0,415.9 200,416.2 C210.0,416.5 213.3,418.8 220,417.5 C226.7,416.2 234.2,410.6 240,408.7 C245.8,406.8 250.0,407.2 255,406.2 C260.0,405.2 264.2,403.0 270,402.5 C275.8,402.0 283.3,403.2 290,403 C296.7,402.8 304.2,401.3 310,401 C315.8,400.7 319.2,402.2 325,401.2 C330.8,400.2 339.5,396.8 345,395 C350.5,393.2 352.2,390.7 358,390.5 C363.8,390.3 373.0,392.1 380,393.7 C387.0,395.3 393.3,397.3 400,400 C406.7,402.7 413.3,407.1 420,410 C426.7,412.9 433.3,415.7 440,417.5 C446.7,419.3 451.7,420.3 460,421 C468.3,421.7 480.0,423.0 490,421.5 C500.0,420.0 511.7,414.9 520,412 C528.3,409.1 534.7,406.3 540,404 C545.3,401.7 548.2,400.1 552,398.3 C555.8,396.5 559.6,394.4 563,393 C566.4,391.6 568.3,390.3 572.5,390.2 C576.7,390.1 582.6,391.5 588,392.5 C593.4,393.5 602.2,395.8 605,396.4" fill="none" stroke="#cdc8bd" stroke-width="0.9"/><line x1="0.5" y1="266.8" x2="0.5" y2="269.1" stroke="#48a985" stroke-width="0.8" opacity="0.7"/><rect x="-0.5" y="267.0" width="2" height="1.2" fill="#48a985"/><line x1="3.1" y1="264.4" x2="3.1" y2="268.0" stroke="#48a985" stroke-width="0.8" opacity="0.7"/><rect x="2.1" y="265.4" width="2" height="1.8" fill="#48a985"/><line x1="5.7" y1="263.3" x2="5.7" y2="265.7" stroke="#48a985" stroke-width="0.8" opacity="0.7"/><rect x="4.7" y="264.2" width="2" height="1.2" fill="#48a985"/><line x1="8.3" y1="263.4" x2="8.3" y2="264.6" stroke="#48a985" stroke-width="0.8" opacity="0.7"/><rect x="7.3" y="263.4" width="2" height="1.2" fill="#48a985"/><line x1="10.9" y1="261.3" x2="10.9" y2="264.3" stroke="#48a985" stroke-width="0.8" opacity="0.7"/><rect x="9.9" y="262.6" width="2" height="1.2" fill="#48a985"/><line x1="13.5" y1="260.4" x2="13.5" y2="264.0" stroke="#48a985" stroke-width="0.8" opacity="0.7"/><rect x="12.5" y="261.4" width="2" height="1.2" fill="#48a985"/><line x1="16.1" y1="260.2" x2="16.1" y2="262.9" stroke="#48a985" stroke-width="0.8" opacity="0.7"/><rect x="15.1" y="260.6" width="2" height="1.2" fill="#48a985"/><line x1="18.7" y1="254.8" x2="18.7" y2="261.6" stroke="#48a985" stroke-width="0.8" opacity="0.7"/><rect x="17.7" y="256.1" width="2" height="4.8" fill="#48a985"/><line x1="21.3" y1="254.4" x2="21.3" y2="256.8" stroke="#48a985" stroke-width="0.8" opacity="0.7"/><rect x="20.3" y="254.9" width="2" height="1.2" fill="#48a985"/><line x1="23.9" y1="254.3" x2="23.9" y2="258.0" stroke="#d04f4f" stroke-width="0.8" opacity="0.7"/><rect x="22.9" y="254.9" width="2" height="2.1" fill="#d04f4f"/><line x1="26.5" y1="255.4" x2="26.5" y2="258.0" stroke="#48a985" stroke-width="0.8" opacity="0.7"/><rect x="25.5" y="256.0" width="2" height="1.2" fill="#48a985"/><line x1="29.1" y1="253.4" x2="29.1" y2="256.7" stroke="#48a985" stroke-width="0.8" opacity="0.7"/><rect x="28.1" y="253.8" width="2" height="2.4" fill="#48a985"/><line x1="31.7" y1="253.0" x2="31.7" y2="258.0" stroke="#d04f4f" stroke-width="0.8" opacity="0.7"/><rect x="30.7" y="253.8" width="2" height="3.5" fill="#d04f4f"/><line x1="34.3" y1="256.4" x2="34.3" y2="259.9" stroke="#d04f4f" stroke-width="0.8" opacity="0.7"/><rect x="33.3" y="257.3" width="2" height="1.9" fill="#d04f4f"/><line x1="36.9" y1="258.1" x2="36.9" y2="259.8" stroke="#d04f4f" stroke-width="0.8" opacity="0.7"/><rect x="35.9" y="258.6" width="2" height="1.2" fill="#d04f4f"/><line x1="39.5" y1="257.8" x2="39.5" y2="260.6" stroke="#48a985" stroke-width="0.8" opacity="0.7"/><rect x="38.5" y="258.4" width="2" height="1.2" fill="#48a985"/><line x1="42.1" y1="258.1" x2="42.1" y2="261.6" stroke="#d04f4f" stroke-width="0.8" opacity="0.7"/><rect x="41.1" y="258.7" width="2" height="1.4" fill="#d04f4f"/><line x1="44.7" y1="258.2" x2="44.7" y2="261.3" stroke="#48a985" stroke-width="0.8" opacity="0.7"/><rect x="43.7" y="259.0" width="2" height="1.2" fill="#48a985"/><line x1="47.3" y1="258.1" x2="47.3" y2="260.3" stroke="#d04f4f" stroke-width="0.8" opacity="0.7"/><rect x="46.3" y="258.9" width="2" height="1.2" fill="#d04f4f"/><line x1="49.9" y1="258.8" x2="49.9" y2="263.5" stroke="#d04f4f" stroke-width="0.8" opacity="0.7"/><rect x="48.9" y="260.0" width="2" height="2.5" fill="#d04f4f"/><line x1="52.5" y1="258.4" x2="52.5" y2="263.6" stroke="#48a985" stroke-width="0.8" opacity="0.7"/><rect x="51.5" y="259.0" width="2" height="3.5" fill="#48a985"/><line x1="55.1" y1="256.8" x2="55.1" y2="259.9" stroke="#48a985" stroke-width="0.8" opacity="0.7"/><rect x="54.1" y="257.8" width="2" height="1.2" fill="#48a985"/><line x1="57.7" y1="256.4" x2="57.7" y2="260.1" stroke="#d04f4f" stroke-width="0.8" opacity="0.7"/><rect x="56.7" y="257.8" width="2" height="1.4" fill="#d04f4f"/><line x1="60.3" y1="258.8" x2="60.3" y2="260.4" stroke="#48a985" stroke-width="0.8" opacity="0.7"/><rect x="59.3" y="258.6" width="2" height="1.2" fill="#48a985"/><line x1="62.9" y1="257.7" x2="62.9" y2="260.5" stroke="#d04f4f" stroke-width="0.8" opacity="0.7"/><rect x="61.9" y="258.6" width="2" height="1.2" fill="#d04f4f"/><line x1="65.5" y1="256.7" x2="65.5" y2="260.3" stroke="#48a985" stroke-width="0.8" opacity="0.7"/><rect x="64.5" y="257.4" width="2" height="1.8" fill="#48a985"/><line x1="68.1" y1="254.6" x2="68.1" y2="257.9" stroke="#48a985" stroke-width="0.8" opacity="0.7"/><rect x="67.1" y="255.4" width="2" height="2.0" fill="#48a985"/><line x1="70.7" y1="254.0" x2="70.7" y2="256.6" stroke="#48a985" stroke-width="0.8" opacity="0.7"/><rect x="69.7" y="254.3" width="2" height="1.2" fill="#48a985"/><line x1="73.3" y1="252.2" x2="73.3" y2="255.1" stroke="#48a985" stroke-width="0.8" opacity="0.7"/><rect x="72.3" y="252.8" width="2" height="1.5" fill="#48a985"/><line x1="75.9" y1="252.4" x2="75.9" y2="254.7" stroke="#d04f4f" stroke-width="0.8" opacity="0.7"/><rect x="74.9" y="252.7" width="2" height="1.2" fill="#d04f4f"/><line x1="78.5" y1="250.4" x2="78.5" y2="255.1" stroke="#48a985" stroke-width="0.8" opacity="0.7"/><rect x="77.5" y="251.8" width="2" height="2.1" fill="#48a985"/><line x1="81.1" y1="251.1" x2="81.1" y2="252.6" stroke="#48a985" stroke-width="0.8" opacity="0.7"/><rect x="80.1" y="251.1" width="2" height="1.2" fill="#48a985"/><line x1="83.7" y1="247.7" x2="83.7" y2="253.2" stroke="#48a985" stroke-width="0.8" opacity="0.7"/><rect x="82.7" y="249.1" width="2" height="2.7" fill="#48a985"/><line x1="86.3" y1="248.2" x2="86.3" y2="249.6" stroke="#48a985" stroke-width="0.8" opacity="0.7"/><rect x="85.3" y="248.3" width="2" height="1.2" fill="#48a985"/><line x1="88.9" y1="247.8" x2="88.9" y2="251.5" stroke="#d04f4f" stroke-width="0.8" opacity="0.7"/><rect x="87.9" y="248.7" width="2" height="1.8" fill="#d04f4f"/><line x1="91.5" y1="249.1" x2="91.5" y2="251.3" stroke="#48a985" stroke-width="0.8" opacity="0.7"/><rect x="90.5" y="249.4" width="2" height="1.2" fill="#48a985"/><line x1="94.1" y1="245.7" x2="94.1" y2="250.9" stroke="#48a985" stroke-width="0.8" opacity="0.7"/><rect x="93.1" y="246.7" width="2" height="2.8" fill="#48a985"/><line x1="96.7" y1="245.4" x2="96.7" y2="247.7" stroke="#48a985" stroke-width="0.8" opacity="0.7"/><rect x="95.7" y="245.9" width="2" height="1.2" fill="#48a985"/><line x1="99.3" y1="245.3" x2="99.3" y2="247.6" stroke="#48a985" stroke-width="0.8" opacity="0.7"/><rect x="98.3" y="245.4" width="2" height="1.2" fill="#48a985"/><line x1="101.9" y1="244.4" x2="101.9" y2="248.7" stroke="#d04f4f" stroke-width="0.8" opacity="0.7"/><rect x="100.9" y="245.7" width="2" height="1.8" fill="#d04f4f"/><line x1="104.5" y1="243.2" x2="104.5" y2="247.9" stroke="#48a985" stroke-width="0.8" opacity="0.7"/><rect x="103.5" y="244.0" width="2" height="3.5" fill="#48a985"/><line x1="107.1" y1="238.9" x2="107.1" y2="244.3" stroke="#48a985" stroke-width="0.8" opacity="0.7"/><rect x="106.1" y="239.3" width="2" height="4.7" fill="#48a985"/><line x1="109.7" y1="233.1" x2="109.7" y2="240.0" stroke="#48a985" stroke-width="0.8" opacity="0.7"/><rect x="108.7" y="233.6" width="2" height="5.7" fill="#48a985"/><line x1="112.3" y1="230.0" x2="112.3" y2="234.0" stroke="#48a985" stroke-width="0.8" opacity="0.7"/><rect x="111.3" y="230.3" width="2" height="3.3" fill="#48a985"/><line x1="114.9" y1="225.2" x2="114.9" y2="230.6" stroke="#48a985" stroke-width="0.8" opacity="0.7"/><rect x="113.9" y="225.9" width="2" height="4.3" fill="#48a985"/><line x1="117.5" y1="224.9" x2="117.5" y2="227.2" stroke="#d04f4f" stroke-width="0.8" opacity="0.7"/><rect x="116.5" y="225.7" width="2" height="1.2" fill="#d04f4f"/><line x1="120.1" y1="223.2" x2="120.1" y2="227.4" stroke="#48a985" stroke-width="0.8" opacity="0.7"/><rect x="119.1" y="223.9" width="2" height="2.8" fill="#48a985"/><line x1="122.7" y1="220.6" x2="122.7" y2="225.4" stroke="#48a985" stroke-width="0.8" opacity="0.7"/><rect x="121.7" y="221.9" width="2" height="2.0" fill="#48a985"/><line x1="125.3" y1="221.0" x2="125.3" y2="225.4" stroke="#d04f4f" stroke-width="0.8" opacity="0.7"/><rect x="124.3" y="221.9" width="2" height="3.1" fill="#d04f4f"/><line x1="127.9" y1="224.0" x2="127.9" y2="225.6" stroke="#48a985" stroke-width="0.8" opacity="0.7"/><rect x="126.9" y="224.2" width="2" height="1.2" fill="#48a985"/><line x1="130.5" y1="224.2" x2="130.5" y2="226.9" stroke="#d04f4f" stroke-width="0.8" opacity="0.7"/><rect x="129.5" y="224.7" width="2" height="1.9" fill="#d04f4f"/><line x1="133.1" y1="225.5" x2="133.1" y2="227.0" stroke="#48a985" stroke-width="0.8" opacity="0.7"/><rect x="132.1" y="225.9" width="2" height="1.2" fill="#48a985"/><line x1="135.7" y1="225.5" x2="135.7" y2="227.4" stroke="#48a985" stroke-width="0.8" opacity="0.7"/><rect x="134.7" y="225.5" width="2" height="1.2" fill="#48a985"/><line x1="138.3" y1="224.5" x2="138.3" y2="229.4" stroke="#d04f4f" stroke-width="0.8" opacity="0.7"/><rect x="137.3" y="225.8" width="2" height="2.4" fill="#d04f4f"/><line x1="140.9" y1="226.6" x2="140.9" y2="228.7" stroke="#48a985" stroke-width="0.8" opacity="0.7"/><rect x="139.9" y="227.2" width="2" height="1.2" fill="#48a985"/><line x1="143.5" y1="226.4" x2="143.5" y2="232.7" stroke="#d04f4f" stroke-width="0.8" opacity="0.7"/><rect x="142.5" y="227.4" width="2" height="4.1" fill="#d04f4f"/><line x1="146.1" y1="227.8" x2="146.1" y2="232.8" stroke="#48a985" stroke-width="0.8" opacity="0.7"/><rect x="145.1" y="228.4" width="2" height="3.1" fill="#48a985"/><line x1="148.7" y1="223.4" x2="148.7" y2="229.6" stroke="#48a985" stroke-width="0.8" opacity="0.7"/><rect x="147.7" y="224.7" width="2" height="3.7" fill="#48a985"/><line x1="151.3" y1="220.8" x2="151.3" y2="225.3" stroke="#48a985" stroke-width="0.8" opacity="0.7"/><rect x="150.3" y="222.0" width="2" height="2.7" fill="#48a985"/><line x1="153.9" y1="220.3" x2="153.9" y2="222.4" stroke="#48a985" stroke-width="0.8" opacity="0.7"/><rect x="152.9" y="220.9" width="2" height="1.2" fill="#48a985"/><line x1="156.5" y1="217.8" x2="156.5" y2="221.7" stroke="#48a985" stroke-width="0.8" opacity="0.7"/><rect x="155.5" y="218.4" width="2" height="2.6" fill="#48a985"/><line x1="159.1" y1="217.0" x2="159.1" y2="219.6" stroke="#d04f4f" stroke-width="0.8" opacity="0.7"/><rect x="158.1" y="218.0" width="2" height="1.2" fill="#d04f4f"/><line x1="161.7" y1="217.3" x2="161.7" y2="221.1" stroke="#d04f4f" stroke-width="0.8" opacity="0.7"/><rect x="160.7" y="218.6" width="2" height="1.2" fill="#d04f4f"/><line x1="164.3" y1="215.2" x2="164.3" y2="220.2" stroke="#48a985" stroke-width="0.8" opacity="0.7"/><rect x="163.3" y="215.8" width="2" height="3.8" fill="#48a985"/><line x1="166.9" y1="209.7" x2="166.9" y2="216.8" stroke="#48a985" stroke-width="0.8" opacity="0.7"/><rect x="165.9" y="210.2" width="2" height="5.6" fill="#48a985"/><line x1="169.5" y1="208.9" x2="169.5" y2="211.5" stroke="#d04f4f" stroke-width="0.8" opacity="0.7"/><rect x="168.5" y="209.8" width="2" height="1.2" fill="#d04f4f"/><line x1="172.1" y1="206.1" x2="172.1" y2="211.0" stroke="#48a985" stroke-width="0.8" opacity="0.7"/><rect x="171.1" y="207.4" width="2" height="3.2" fill="#48a985"/><line x1="174.7" y1="206.0" x2="174.7" y2="210.0" stroke="#d04f4f" stroke-width="0.8" opacity="0.7"/><rect x="173.7" y="207.4" width="2" height="1.4" fill="#d04f4f"/><line x1="177.3" y1="207.9" x2="177.3" y2="212.1" stroke="#d04f4f" stroke-width="0.8" opacity="0.7"/><rect x="176.3" y="208.8" width="2" height="2.8" fill="#d04f4f"/><line x1="179.9" y1="210.9" x2="179.9" y2="214.6" stroke="#d04f4f" stroke-width="0.8" opacity="0.7"/><rect x="178.9" y="211.6" width="2" height="1.7" fill="#d04f4f"/><line x1="182.5" y1="212.6" x2="182.5" y2="216.4" stroke="#d04f4f" stroke-width="0.8" opacity="0.7"/><rect x="181.5" y="213.4" width="2" height="2.2" fill="#d04f4f"/><line x1="185.1" y1="214.4" x2="185.1" y2="218.6" stroke="#d04f4f" stroke-width="0.8" opacity="0.7"/><rect x="184.1" y="215.6" width="2" height="2.5" fill="#d04f4f"/><line x1="187.7" y1="217.6" x2="187.7" y2="220.7" stroke="#d04f4f" stroke-width="0.8" opacity="0.7"/><rect x="186.7" y="218.1" width="2" height="1.3" fill="#d04f4f"/><line x1="190.3" y1="218.9" x2="190.3" y2="224.8" stroke="#d04f4f" stroke-width="0.8" opacity="0.7"/><rect x="189.3" y="219.4" width="2" height="4.2" fill="#d04f4f"/><line x1="192.9" y1="222.5" x2="192.9" y2="225.5" stroke="#d04f4f" stroke-width="0.8" opacity="0.7"/><rect x="191.9" y="223.6" width="2" height="1.2" fill="#d04f4f"/><line x1="195.5" y1="223.2" x2="195.5" y2="225.1" stroke="#48a985" stroke-width="0.8" opacity="0.7"/><rect x="194.5" y="223.6" width="2" height="1.2" fill="#48a985"/><line x1="198.1" y1="222.5" x2="198.1" y2="224.6" stroke="#48a985" stroke-width="0.8" opacity="0.7"/><rect x="197.1" y="223.0" width="2" height="1.2" fill="#48a985"/><line x1="200.7" y1="220.4" x2="200.7" y2="224.9" stroke="#48a985" stroke-width="0.8" opacity="0.7"/><rect x="199.7" y="221.2" width="2" height="2.3" fill="#48a985"/><line x1="203.3" y1="216.0" x2="203.3" y2="221.8" stroke="#48a985" stroke-width="0.8" opacity="0.7"/><rect x="202.3" y="216.5" width="2" height="4.7" fill="#48a985"/><line x1="205.9" y1="209.8" x2="205.9" y2="217.5" stroke="#48a985" stroke-width="0.8" opacity="0.7"/><rect x="204.9" y="210.4" width="2" height="6.1" fill="#48a985"/><line x1="208.5" y1="205.1" x2="208.5" y2="210.9" stroke="#48a985" stroke-width="0.8" opacity="0.7"/><rect x="207.5" y="205.9" width="2" height="4.6" fill="#48a985"/><line x1="211.1" y1="205.0" x2="211.1" y2="206.7" stroke="#48a985" stroke-width="0.8" opacity="0.7"/><rect x="210.1" y="205.2" width="2" height="1.2" fill="#48a985"/><line x1="213.7" y1="204.1" x2="213.7" y2="206.5" stroke="#48a985" stroke-width="0.8" opacity="0.7"/><rect x="212.7" y="205.0" width="2" height="1.2" fill="#48a985"/><line x1="216.3" y1="204.6" x2="216.3" y2="208.9" stroke="#d04f4f" stroke-width="0.8" opacity="0.7"/><rect x="215.3" y="205.5" width="2" height="2.4" fill="#d04f4f"/><line x1="218.9" y1="207.6" x2="218.9" y2="209.8" stroke="#d04f4f" stroke-width="0.8" opacity="0.7"/><rect x="217.9" y="207.8" width="2" height="1.2" fill="#d04f4f"/><line x1="221.5" y1="204.9" x2="221.5" y2="210.2" stroke="#48a985" stroke-width="0.8" opacity="0.7"/><rect x="220.5" y="205.2" width="2" height="3.7" fill="#48a985"/><line x1="224.1" y1="201.7" x2="224.1" y2="206.4" stroke="#48a985" stroke-width="0.8" opacity="0.7"/><rect x="223.1" y="202.6" width="2" height="2.7" fill="#48a985"/><line x1="226.7" y1="200.0" x2="226.7" y2="203.5" stroke="#48a985" stroke-width="0.8" opacity="0.7"/><rect x="225.7" y="200.7" width="2" height="1.9" fill="#48a985"/><line x1="229.3" y1="195.3" x2="229.3" y2="201.1" stroke="#48a985" stroke-width="0.8" opacity="0.7"/><rect x="228.3" y="196.6" width="2" height="4.1" fill="#48a985"/><line x1="232.5" y1="137.0" x2="232.5" y2="192.0" stroke="#48a985" stroke-width="0.8" opacity="0.7"/><rect x="231.5" y="146.0" width="2" height="46.0" fill="#48a985"/><line x1="235.0" y1="146.0" x2="235.0" y2="166.0" stroke="#d04f4f" stroke-width="0.8" opacity="0.7"/><rect x="234.0" y="147.0" width="2" height="15.0" fill="#d04f4f"/><line x1="237.5" y1="144.0" x2="237.5" y2="152.0" stroke="#d04f4f" stroke-width="0.8" opacity="0.7"/><rect x="236.5" y="146.0" width="2" height="4.0" fill="#d04f4f"/><line x1="240.0" y1="149.0" x2="240.0" y2="187.0" stroke="#d04f4f" stroke-width="0.8" opacity="0.7"/><rect x="239.0" y="150.0" width="2" height="16.0" fill="#d04f4f"/><line x1="242.5" y1="154.0" x2="242.5" y2="170.0" stroke="#48a985" stroke-width="0.8" opacity="0.7"/><rect x="241.5" y="155.0" width="2" height="13.0" fill="#48a985"/><line x1="245.0" y1="151.0" x2="245.0" y2="165.0" stroke="#d04f4f" stroke-width="0.8" opacity="0.7"/><rect x="244.0" y="152.0" width="2" height="11.0" fill="#d04f4f"/><line x1="247.5" y1="158.0" x2="247.5" y2="173.0" stroke="#d04f4f" stroke-width="0.8" opacity="0.7"/><rect x="246.5" y="160.0" width="2" height="12.0" fill="#d04f4f"/><line x1="250.0" y1="169.0" x2="250.0" y2="176.0" stroke="#d04f4f" stroke-width="0.8" opacity="0.7"/><rect x="249.0" y="170.0" width="2" height="5.0" fill="#d04f4f"/><line x1="252.5" y1="167.0" x2="252.5" y2="177.0" stroke="#48a985" stroke-width="0.8" opacity="0.7"/><rect x="251.5" y="168.0" width="2" height="7.0" fill="#48a985"/><line x1="255.0" y1="157.0" x2="255.0" y2="169.0" stroke="#48a985" stroke-width="0.8" opacity="0.7"/><rect x="254.0" y="158.0" width="2" height="10.0" fill="#48a985"/><line x1="257.5" y1="154.0" x2="257.5" y2="160.0" stroke="#48a985" stroke-width="0.8" opacity="0.7"/><rect x="256.5" y="155.0" width="2" height="4.0" fill="#48a985"/><line x1="260.0" y1="156.0" x2="260.0" y2="161.0" stroke="#d04f4f" stroke-width="0.8" opacity="0.7"/><rect x="259.0" y="157.0" width="2" height="2.0" fill="#d04f4f"/><line x1="262.5" y1="158.0" x2="262.5" y2="162.0" stroke="#d04f4f" stroke-width="0.8" opacity="0.7"/><rect x="261.5" y="159.0" width="2" height="2.0" fill="#d04f4f"/><line x1="265.0" y1="161.0" x2="265.0" y2="169.0" stroke="#d04f4f" stroke-width="0.8" opacity="0.7"/><rect x="264.0" y="162.0" width="2" height="6.0" fill="#d04f4f"/><line x1="267.5" y1="164.0" x2="267.5" y2="171.0" stroke="#d04f4f" stroke-width="0.8" opacity="0.7"/><rect x="266.5" y="165.0" width="2" height="5.0" fill="#d04f4f"/><line x1="270.0" y1="167.0" x2="270.0" y2="182.0" stroke="#d04f4f" stroke-width="0.8" opacity="0.7"/><rect x="269.0" y="168.0" width="2" height="4.0" fill="#d04f4f"/><line x1="272.5" y1="164.0" x2="272.5" y2="172.0" stroke="#48a985" stroke-width="0.8" opacity="0.7"/><rect x="271.5" y="165.0" width="2" height="6.0" fill="#48a985"/><line x1="275.0" y1="161.0" x2="275.0" y2="171.0" stroke="#48a985" stroke-width="0.8" opacity="0.7"/><rect x="274.0" y="162.0" width="2" height="8.0" fill="#48a985"/><line x1="277.5" y1="159.0" x2="277.5" y2="166.0" stroke="#48a985" stroke-width="0.8" opacity="0.7"/><rect x="276.5" y="160.0" width="2" height="5.0" fill="#48a985"/><line x1="280.0" y1="156.0" x2="280.0" y2="163.0" stroke="#48a985" stroke-width="0.8" opacity="0.7"/><rect x="279.0" y="157.0" width="2" height="5.0" fill="#48a985"/><line x1="282.5" y1="148.0" x2="282.5" y2="159.0" stroke="#48a985" stroke-width="0.8" opacity="0.7"/><rect x="281.5" y="149.0" width="2" height="9.0" fill="#48a985"/><line x1="285.0" y1="147.0" x2="285.0" y2="158.0" stroke="#d04f4f" stroke-width="0.8" opacity="0.7"/><rect x="284.0" y="148.0" width="2" height="9.0" fill="#d04f4f"/><line x1="287.5" y1="149.0" x2="287.5" y2="157.0" stroke="#d04f4f" stroke-width="0.8" opacity="0.7"/><rect x="286.5" y="150.0" width="2" height="6.0" fill="#d04f4f"/><line x1="290.0" y1="154.0" x2="290.0" y2="159.0" stroke="#d04f4f" stroke-width="0.8" opacity="0.7"/><rect x="289.0" y="155.0" width="2" height="3.0" fill="#d04f4f"/><line x1="292.5" y1="146.0" x2="292.5" y2="153.0" stroke="#48a985" stroke-width="0.8" opacity="0.7"/><rect x="291.5" y="147.0" width="2" height="5.0" fill="#48a985"/><line x1="295.0" y1="141.0" x2="295.0" y2="158.0" stroke="#48a985" stroke-width="0.8" opacity="0.7"/><rect x="294.0" y="142.0" width="2" height="15.0" fill="#48a985"/><line x1="297.5" y1="140.0" x2="297.5" y2="145.0" stroke="#d04f4f" stroke-width="0.8" opacity="0.7"/><rect x="296.5" y="141.0" width="2" height="3.0" fill="#d04f4f"/><line x1="300.0" y1="138.0" x2="300.0" y2="143.0" stroke="#48a985" stroke-width="0.8" opacity="0.7"/><rect x="299.0" y="139.0" width="2" height="3.0" fill="#48a985"/><line x1="302.5" y1="136.0" x2="302.5" y2="142.0" stroke="#d04f4f" stroke-width="0.8" opacity="0.7"/><rect x="301.5" y="137.0" width="2" height="4.0" fill="#d04f4f"/><line x1="305.0" y1="133.0" x2="305.0" y2="140.0" stroke="#48a985" stroke-width="0.8" opacity="0.7"/><rect x="304.0" y="134.0" width="2" height="5.0" fill="#48a985"/><line x1="307.5" y1="132.0" x2="307.5" y2="136.0" stroke="#48a985" stroke-width="0.8" opacity="0.7"/><rect x="306.5" y="133.0" width="2" height="2.0" fill="#48a985"/><line x1="309.5" y1="107.0" x2="309.5" y2="131.0" stroke="#48a985" stroke-width="0.8" opacity="0.7"/><rect x="308.5" y="119.0" width="2" height="11.0" fill="#48a985"/><line x1="312.0" y1="120.0" x2="312.0" y2="126.0" stroke="#d04f4f" stroke-width="0.8" opacity="0.7"/><rect x="311.0" y="121.0" width="2" height="4.0" fill="#d04f4f"/><line x1="314.0" y1="117.0" x2="314.0" y2="124.0" stroke="#d04f4f" stroke-width="0.8" opacity="0.7"/><rect x="313.0" y="118.0" width="2" height="5.0" fill="#d04f4f"/><line x1="316.0" y1="119.0" x2="316.0" y2="128.0" stroke="#d04f4f" stroke-width="0.8" opacity="0.7"/><rect x="315.0" y="120.0" width="2" height="7.0" fill="#d04f4f"/><line x1="318.5" y1="124.0" x2="318.5" y2="134.0" stroke="#d04f4f" stroke-width="0.8" opacity="0.7"/><rect x="317.5" y="125.0" width="2" height="3.0" fill="#d04f4f"/><line x1="321.0" y1="125.0" x2="321.0" y2="128.0" stroke="#d04f4f" stroke-width="0.8" opacity="0.7"/><rect x="320.0" y="125.9" width="2" height="1.2" fill="#d04f4f"/><line x1="323.0" y1="125.0" x2="323.0" y2="131.0" stroke="#d04f4f" stroke-width="0.8" opacity="0.7"/><rect x="322.0" y="126.0" width="2" height="4.0" fill="#d04f4f"/><line x1="325.5" y1="125.0" x2="325.5" y2="133.0" stroke="#d04f4f" stroke-width="0.8" opacity="0.7"/><rect x="324.5" y="126.0" width="2" height="6.0" fill="#d04f4f"/><line x1="328.0" y1="126.0" x2="328.0" y2="133.0" stroke="#d04f4f" stroke-width="0.8" opacity="0.7"/><rect x="327.0" y="127.0" width="2" height="5.0" fill="#d04f4f"/><line x1="330.0" y1="117.0" x2="330.0" y2="127.0" stroke="#48a985" stroke-width="0.8" opacity="0.7"/><rect x="329.0" y="118.0" width="2" height="8.0" fill="#48a985"/><line x1="332.5" y1="111.0" x2="332.5" y2="119.0" stroke="#48a985" stroke-width="0.8" opacity="0.7"/><rect x="331.5" y="112.0" width="2" height="6.0" fill="#48a985"/><line x1="334.5" y1="106.0" x2="334.5" y2="113.0" stroke="#48a985" stroke-width="0.8" opacity="0.7"/><rect x="333.5" y="107.0" width="2" height="5.0" fill="#48a985"/><line x1="336.5" y1="98.0" x2="336.5" y2="104.0" stroke="#48a985" stroke-width="0.8" opacity="0.7"/><rect x="335.5" y="99.0" width="2" height="4.0" fill="#48a985"/><line x1="339.0" y1="96.0" x2="339.0" y2="100.0" stroke="#48a985" stroke-width="0.8" opacity="0.7"/><rect x="338.0" y="97.0" width="2" height="2.0" fill="#48a985"/><line x1="341.5" y1="93.0" x2="341.5" y2="98.0" stroke="#48a985" stroke-width="0.8" opacity="0.7"/><rect x="340.5" y="94.0" width="2" height="3.0" fill="#48a985"/><line x1="344.0" y1="62.0" x2="344.0" y2="98.0" stroke="#48a985" stroke-width="0.8" opacity="0.7"/><rect x="343.0" y="63.0" width="2" height="34.0" fill="#48a985"/><line x1="346.5" y1="60.0" x2="346.5" y2="67.0" stroke="#d04f4f" stroke-width="0.8" opacity="0.7"/><rect x="345.5" y="61.0" width="2" height="5.0" fill="#d04f4f"/><line x1="348.5" y1="69.0" x2="348.5" y2="79.0" stroke="#d04f4f" stroke-width="0.8" opacity="0.7"/><rect x="347.5" y="70.0" width="2" height="8.0" fill="#d04f4f"/><line x1="350.5" y1="78.0" x2="350.5" y2="83.0" stroke="#d04f4f" stroke-width="0.8" opacity="0.7"/><rect x="349.5" y="79.0" width="2" height="3.0" fill="#d04f4f"/><line x1="352.5" y1="82.0" x2="352.5" y2="89.0" stroke="#d04f4f" stroke-width="0.8" opacity="0.7"/><rect x="351.5" y="83.0" width="2" height="5.0" fill="#d04f4f"/><line x1="355.0" y1="86.0" x2="355.0" y2="90.0" stroke="#d04f4f" stroke-width="0.8" opacity="0.7"/><rect x="354.0" y="87.0" width="2" height="2.0" fill="#d04f4f"/><line x1="357.5" y1="87.0" x2="357.5" y2="111.0" stroke="#d04f4f" stroke-width="0.8" opacity="0.7"/><rect x="356.5" y="88.0" width="2" height="22.0" fill="#d04f4f"/><line x1="360.5" y1="96.0" x2="360.5" y2="104.0" stroke="#48a985" stroke-width="0.8" opacity="0.7"/><rect x="359.5" y="97.0" width="2" height="6.0" fill="#48a985"/><line x1="363.0" y1="95.0" x2="363.0" y2="101.0" stroke="#48a985" stroke-width="0.8" opacity="0.7"/><rect x="362.0" y="96.0" width="2" height="4.0" fill="#48a985"/><line x1="365.5" y1="95.0" x2="365.5" y2="100.0" stroke="#d04f4f" stroke-width="0.8" opacity="0.7"/><rect x="364.5" y="96.0" width="2" height="3.0" fill="#d04f4f"/><line x1="368.0" y1="94.0" x2="368.0" y2="98.0" stroke="#d04f4f" stroke-width="0.8" opacity="0.7"/><rect x="367.0" y="95.0" width="2" height="2.0" fill="#d04f4f"/><line x1="370.5" y1="94.0" x2="370.5" y2="97.0" stroke="#48a985" stroke-width="0.8" opacity="0.7"/><rect x="369.5" y="94.9" width="2" height="1.2" fill="#48a985"/><line x1="373.0" y1="92.0" x2="373.0" y2="96.0" stroke="#48a985" stroke-width="0.8" opacity="0.7"/><rect x="372.0" y="93.0" width="2" height="2.0" fill="#48a985"/><line x1="375.5" y1="92.0" x2="375.5" y2="95.0" stroke="#d04f4f" stroke-width="0.8" opacity="0.7"/><rect x="374.5" y="92.9" width="2" height="1.2" fill="#d04f4f"/><line x1="378.5" y1="85.0" x2="378.5" y2="92.0" stroke="#d04f4f" stroke-width="0.8" opacity="0.7"/><rect x="377.5" y="86.0" width="2" height="5.0" fill="#d04f4f"/><line x1="381.0" y1="84.0" x2="381.0" y2="93.0" stroke="#d04f4f" stroke-width="0.8" opacity="0.7"/><rect x="380.0" y="85.0" width="2" height="7.0" fill="#d04f4f"/><line x1="383.5" y1="90.0" x2="383.5" y2="97.0" stroke="#d04f4f" stroke-width="0.8" opacity="0.7"/><rect x="382.5" y="91.0" width="2" height="5.0" fill="#d04f4f"/><line x1="386.0" y1="96.0" x2="386.0" y2="99.0" stroke="#d04f4f" stroke-width="0.8" opacity="0.7"/><rect x="385.0" y="96.9" width="2" height="1.2" fill="#d04f4f"/><line x1="388.5" y1="95.0" x2="388.5" y2="98.0" stroke="#48a985" stroke-width="0.8" opacity="0.7"/><rect x="387.5" y="95.9" width="2" height="1.2" fill="#48a985"/><line x1="391.0" y1="96.0" x2="391.0" y2="99.0" stroke="#d04f4f" stroke-width="0.8" opacity="0.7"/><rect x="390.0" y="96.9" width="2" height="1.2" fill="#d04f4f"/><line x1="393.5" y1="97.0" x2="393.5" y2="100.0" stroke="#d04f4f" stroke-width="0.8" opacity="0.7"/><rect x="392.5" y="97.9" width="2" height="1.2" fill="#d04f4f"/><line x1="396.0" y1="97.0" x2="396.0" y2="102.0" stroke="#d04f4f" stroke-width="0.8" opacity="0.7"/><rect x="395.0" y="98.0" width="2" height="3.0" fill="#d04f4f"/><line x1="398.5" y1="102.0" x2="398.5" y2="109.0" stroke="#d04f4f" stroke-width="0.8" opacity="0.7"/><rect x="397.5" y="103.0" width="2" height="5.0" fill="#d04f4f"/><line x1="401.0" y1="109.0" x2="401.0" y2="133.0" stroke="#d04f4f" stroke-width="0.8" opacity="0.7"/><rect x="400.0" y="110.0" width="2" height="22.0" fill="#d04f4f"/><line x1="403.5" y1="123.0" x2="403.5" y2="130.0" stroke="#48a985" stroke-width="0.8" opacity="0.7"/><rect x="402.5" y="124.0" width="2" height="2.0" fill="#48a985"/><line x1="405.5" y1="130.0" x2="405.5" y2="141.0" stroke="#d04f4f" stroke-width="0.8" opacity="0.7"/><rect x="404.5" y="131.0" width="2" height="9.0" fill="#d04f4f"/><line x1="408.0" y1="125.0" x2="408.0" y2="141.0" stroke="#48a985" stroke-width="0.8" opacity="0.7"/><rect x="407.0" y="130.0" width="2" height="10.0" fill="#48a985"/><line x1="410.5" y1="124.0" x2="410.5" y2="131.0" stroke="#48a985" stroke-width="0.8" opacity="0.7"/><rect x="409.5" y="125.0" width="2" height="5.0" fill="#48a985"/><line x1="413.0" y1="110.0" x2="413.0" y2="125.0" stroke="#48a985" stroke-width="0.8" opacity="0.7"/><rect x="412.0" y="111.0" width="2" height="13.0" fill="#48a985"/><line x1="415.5" y1="103.0" x2="415.5" y2="118.0" stroke="#d04f4f" stroke-width="0.8" opacity="0.7"/><rect x="414.5" y="111.9" width="2" height="1.2" fill="#d04f4f"/><line x1="418.0" y1="112.0" x2="418.0" y2="125.0" stroke="#d04f4f" stroke-width="0.8" opacity="0.7"/><rect x="417.0" y="113.0" width="2" height="11.0" fill="#d04f4f"/><line x1="420.0" y1="117.0" x2="420.0" y2="129.0" stroke="#d04f4f" stroke-width="0.8" opacity="0.7"/><rect x="419.0" y="118.0" width="2" height="10.0" fill="#d04f4f"/><line x1="422.5" y1="122.0" x2="422.5" y2="131.0" stroke="#d04f4f" stroke-width="0.8" opacity="0.7"/><rect x="421.5" y="123.0" width="2" height="7.0" fill="#d04f4f"/><line x1="425.0" y1="117.0" x2="425.0" y2="126.0" stroke="#48a985" stroke-width="0.8" opacity="0.7"/><rect x="424.0" y="118.0" width="2" height="7.0" fill="#48a985"/><line x1="427.5" y1="119.0" x2="427.5" y2="125.0" stroke="#d04f4f" stroke-width="0.8" opacity="0.7"/><rect x="426.5" y="120.0" width="2" height="4.0" fill="#d04f4f"/><line x1="430.0" y1="117.0" x2="430.0" y2="126.0" stroke="#48a985" stroke-width="0.8" opacity="0.7"/><rect x="429.0" y="118.0" width="2" height="7.0" fill="#48a985"/><line x1="432.5" y1="112.0" x2="432.5" y2="121.0" stroke="#48a985" stroke-width="0.8" opacity="0.7"/><rect x="431.5" y="113.0" width="2" height="7.0" fill="#48a985"/><line x1="435.0" y1="112.0" x2="435.0" y2="119.0" stroke="#48a985" stroke-width="0.8" opacity="0.7"/><rect x="434.0" y="113.0" width="2" height="5.0" fill="#48a985"/><line x1="437.0" y1="109.0" x2="437.0" y2="116.0" stroke="#48a985" stroke-width="0.8" opacity="0.7"/><rect x="436.0" y="110.0" width="2" height="5.0" fill="#48a985"/><line x1="439.0" y1="106.0" x2="439.0" y2="118.0" stroke="#48a985" stroke-width="0.8" opacity="0.7"/><rect x="438.0" y="107.0" width="2" height="10.0" fill="#48a985"/><line x1="441.5" y1="103.0" x2="441.5" y2="109.0" stroke="#48a985" stroke-width="0.8" opacity="0.7"/><rect x="440.5" y="104.0" width="2" height="4.0" fill="#48a985"/><line x1="444.0" y1="99.0" x2="444.0" y2="106.0" stroke="#48a985" stroke-width="0.8" opacity="0.7"/><rect x="443.0" y="100.0" width="2" height="5.0" fill="#48a985"/><line x1="446.5" y1="101.0" x2="446.5" y2="111.0" stroke="#48a985" stroke-width="0.8" opacity="0.7"/><rect x="445.5" y="101.9" width="2" height="1.2" fill="#48a985"/><line x1="448.5" y1="99.0" x2="448.5" y2="106.0" stroke="#d04f4f" stroke-width="0.8" opacity="0.7"/><rect x="447.5" y="100.0" width="2" height="5.0" fill="#d04f4f"/><line x1="450.5" y1="103.0" x2="450.5" y2="111.0" stroke="#d04f4f" stroke-width="0.8" opacity="0.7"/><rect x="449.5" y="104.0" width="2" height="6.0" fill="#d04f4f"/><line x1="452.5" y1="109.0" x2="452.5" y2="121.0" stroke="#d04f4f" stroke-width="0.8" opacity="0.7"/><rect x="451.5" y="110.0" width="2" height="10.0" fill="#d04f4f"/><line x1="454.5" y1="116.0" x2="454.5" y2="126.0" stroke="#d04f4f" stroke-width="0.8" opacity="0.7"/><rect x="453.5" y="117.0" width="2" height="8.0" fill="#d04f4f"/><line x1="456.5" y1="119.0" x2="456.5" y2="131.0" stroke="#d04f4f" stroke-width="0.8" opacity="0.7"/><rect x="455.5" y="120.0" width="2" height="10.0" fill="#d04f4f"/><line x1="458.5" y1="125.0" x2="458.5" y2="136.0" stroke="#d04f4f" stroke-width="0.8" opacity="0.7"/><rect x="457.5" y="126.0" width="2" height="9.0" fill="#d04f4f"/><line x1="460.5" y1="127.0" x2="460.5" y2="138.0" stroke="#d04f4f" stroke-width="0.8" opacity="0.7"/><rect x="459.5" y="128.0" width="2" height="9.0" fill="#d04f4f"/><line x1="463.0" y1="138.0" x2="463.0" y2="160.0" stroke="#d04f4f" stroke-width="0.8" opacity="0.7"/><rect x="462.0" y="139.0" width="2" height="20.0" fill="#d04f4f"/><line x1="466.0" y1="148.0" x2="466.0" y2="167.0" stroke="#48a985" stroke-width="0.8" opacity="0.7"/><rect x="465.0" y="149.0" width="2" height="17.0" fill="#48a985"/><line x1="468.5" y1="137.0" x2="468.5" y2="149.0" stroke="#48a985" stroke-width="0.8" opacity="0.7"/><rect x="467.5" y="138.0" width="2" height="10.0" fill="#48a985"/><line x1="470.5" y1="130.0" x2="470.5" y2="139.0" stroke="#48a985" stroke-width="0.8" opacity="0.7"/><rect x="469.5" y="131.0" width="2" height="7.0" fill="#48a985"/><line x1="473.0" y1="127.0" x2="473.0" y2="134.0" stroke="#48a985" stroke-width="0.8" opacity="0.7"/><rect x="472.0" y="128.0" width="2" height="5.0" fill="#48a985"/><line x1="475.5" y1="124.0" x2="475.5" y2="131.0" stroke="#48a985" stroke-width="0.8" opacity="0.7"/><rect x="474.5" y="125.0" width="2" height="5.0" fill="#48a985"/><line x1="478.0" y1="121.0" x2="478.0" y2="127.0" stroke="#48a985" stroke-width="0.8" opacity="0.7"/><rect x="477.0" y="122.0" width="2" height="4.0" fill="#48a985"/><line x1="481.0" y1="123.0" x2="481.0" y2="129.0" stroke="#d04f4f" stroke-width="0.8" opacity="0.7"/><rect x="480.0" y="124.0" width="2" height="4.0" fill="#d04f4f"/><line x1="484.0" y1="125.0" x2="484.0" y2="131.0" stroke="#d04f4f" stroke-width="0.8" opacity="0.7"/><rect x="483.0" y="126.0" width="2" height="4.0" fill="#d04f4f"/><line x1="486.5" y1="127.0" x2="486.5" y2="133.0" stroke="#d04f4f" stroke-width="0.8" opacity="0.7"/><rect x="485.5" y="128.0" width="2" height="4.0" fill="#d04f4f"/><line x1="489.0" y1="116.0" x2="489.0" y2="132.0" stroke="#48a985" stroke-width="0.8" opacity="0.7"/><rect x="488.0" y="117.0" width="2" height="14.0" fill="#48a985"/><line x1="491.5" y1="116.0" x2="491.5" y2="121.0" stroke="#d04f4f" stroke-width="0.8" opacity="0.7"/><rect x="490.5" y="117.0" width="2" height="3.0" fill="#d04f4f"/><line x1="494.0" y1="117.0" x2="494.0" y2="123.0" stroke="#d04f4f" stroke-width="0.8" opacity="0.7"/><rect x="493.0" y="118.0" width="2" height="4.0" fill="#d04f4f"/><line x1="497.0" y1="111.0" x2="497.0" y2="119.0" stroke="#48a985" stroke-width="0.8" opacity="0.7"/><rect x="496.0" y="112.0" width="2" height="6.0" fill="#48a985"/><line x1="500.0" y1="107.0" x2="500.0" y2="115.0" stroke="#48a985" stroke-width="0.8" opacity="0.7"/><rect x="499.0" y="108.0" width="2" height="6.0" fill="#48a985"/><line x1="503.0" y1="79.0" x2="503.0" y2="101.0" stroke="#48a985" stroke-width="0.8" opacity="0.7"/><rect x="502.0" y="80.0" width="2" height="20.0" fill="#48a985"/><line x1="505.5" y1="98.0" x2="505.5" y2="104.0" stroke="#48a985" stroke-width="0.8" opacity="0.7"/><rect x="504.5" y="99.0" width="2" height="4.0" fill="#48a985"/><line x1="507.5" y1="77.0" x2="507.5" y2="81.0" stroke="#48a985" stroke-width="0.8" opacity="0.7"/><rect x="506.5" y="78.0" width="2" height="2.0" fill="#48a985"/><line x1="510.0" y1="76.0" x2="510.0" y2="79.0" stroke="#48a985" stroke-width="0.8" opacity="0.7"/><rect x="509.0" y="76.9" width="2" height="1.2" fill="#48a985"/><line x1="513.0" y1="76.0" x2="513.0" y2="83.0" stroke="#d04f4f" stroke-width="0.8" opacity="0.7"/><rect x="512.0" y="77.0" width="2" height="5.0" fill="#d04f4f"/><line x1="516.0" y1="77.0" x2="516.0" y2="85.0" stroke="#d04f4f" stroke-width="0.8" opacity="0.7"/><rect x="515.0" y="78.0" width="2" height="6.0" fill="#d04f4f"/><line x1="519.0" y1="79.0" x2="519.0" y2="86.0" stroke="#d04f4f" stroke-width="0.8" opacity="0.7"/><rect x="518.0" y="80.0" width="2" height="4.0" fill="#d04f4f"/><line x1="522.0" y1="76.0" x2="522.0" y2="81.0" stroke="#48a985" stroke-width="0.8" opacity="0.7"/><rect x="521.0" y="77.0" width="2" height="3.0" fill="#48a985"/><line x1="524.0" y1="69.0" x2="524.0" y2="79.0" stroke="#48a985" stroke-width="0.8" opacity="0.7"/><rect x="523.0" y="70.0" width="2" height="8.0" fill="#48a985"/><line x1="526.5" y1="44.0" x2="526.5" y2="77.0" stroke="#48a985" stroke-width="0.8" opacity="0.7"/><rect x="525.5" y="45.0" width="2" height="31.0" fill="#48a985"/><line x1="528.5" y1="43.0" x2="528.5" y2="51.0" stroke="#48a985" stroke-width="0.8" opacity="0.7"/><rect x="527.5" y="44.0" width="2" height="6.0" fill="#48a985"/><line x1="531.0" y1="39.0" x2="531.0" y2="46.0" stroke="#48a985" stroke-width="0.8" opacity="0.7"/><rect x="530.0" y="40.0" width="2" height="5.0" fill="#48a985"/><line x1="533.5" y1="36.0" x2="533.5" y2="41.0" stroke="#48a985" stroke-width="0.8" opacity="0.7"/><rect x="532.5" y="37.0" width="2" height="3.0" fill="#48a985"/><line x1="536.0" y1="34.0" x2="536.0" y2="39.0" stroke="#48a985" stroke-width="0.8" opacity="0.7"/><rect x="535.0" y="35.0" width="2" height="3.0" fill="#48a985"/><line x1="538.0" y1="34.0" x2="538.0" y2="39.0" stroke="#d04f4f" stroke-width="0.8" opacity="0.7"/><rect x="537.0" y="35.0" width="2" height="3.0" fill="#d04f4f"/><line x1="540.5" y1="32.0" x2="540.5" y2="38.0" stroke="#48a985" stroke-width="0.8" opacity="0.7"/><rect x="539.5" y="33.0" width="2" height="4.0" fill="#48a985"/><line x1="543.0" y1="29.0" x2="543.0" y2="36.0" stroke="#48a985" stroke-width="0.8" opacity="0.7"/><rect x="542.0" y="30.0" width="2" height="5.0" fill="#48a985"/><line x1="545.5" y1="24.0" x2="545.5" y2="33.0" stroke="#48a985" stroke-width="0.8" opacity="0.7"/><rect x="544.5" y="25.0" width="2" height="7.0" fill="#48a985"/><line x1="548.0" y1="8.0" x2="548.0" y2="26.0" stroke="#48a985" stroke-width="0.8" opacity="0.7"/><rect x="547.0" y="13.0" width="2" height="12.0" fill="#48a985"/><line x1="550.5" y1="11.0" x2="550.5" y2="21.0" stroke="#d04f4f" stroke-width="0.8" opacity="0.7"/><rect x="549.5" y="12.0" width="2" height="8.0" fill="#d04f4f"/><line x1="553.0" y1="19.0" x2="553.0" y2="26.0" stroke="#d04f4f" stroke-width="0.8" opacity="0.7"/><rect x="552.0" y="20.0" width="2" height="5.0" fill="#d04f4f"/><line x1="555.5" y1="24.0" x2="555.5" y2="34.0" stroke="#d04f4f" stroke-width="0.8" opacity="0.7"/><rect x="554.5" y="25.0" width="2" height="8.0" fill="#d04f4f"/><line x1="558.0" y1="29.0" x2="558.0" y2="36.0" stroke="#48a985" stroke-width="0.8" opacity="0.7"/><rect x="557.0" y="30.0" width="2" height="5.0" fill="#48a985"/><line x1="560.5" y1="19.0" x2="560.5" y2="29.0" stroke="#48a985" stroke-width="0.8" opacity="0.7"/><rect x="559.5" y="20.0" width="2" height="8.0" fill="#48a985"/><line x1="563.0" y1="11.0" x2="563.0" y2="21.0" stroke="#48a985" stroke-width="0.8" opacity="0.7"/><rect x="562.0" y="12.0" width="2" height="8.0" fill="#48a985"/><line x1="565.5" y1="5.0" x2="565.5" y2="13.0" stroke="#48a985" stroke-width="0.8" opacity="0.7"/><rect x="564.5" y="8.0" width="2" height="4.0" fill="#48a985"/><line x1="568.0" y1="5.0" x2="568.0" y2="19.0" stroke="#d04f4f" stroke-width="0.8" opacity="0.7"/><rect x="567.0" y="6.0" width="2" height="12.0" fill="#d04f4f"/><line x1="570.5" y1="19.0" x2="570.5" y2="29.0" stroke="#d04f4f" stroke-width="0.8" opacity="0.7"/><rect x="569.5" y="20.0" width="2" height="8.0" fill="#d04f4f"/><line x1="573.0" y1="25.0" x2="573.0" y2="35.0" stroke="#d04f4f" stroke-width="0.8" opacity="0.7"/><rect x="572.0" y="26.0" width="2" height="8.0" fill="#d04f4f"/><line x1="575.5" y1="27.0" x2="575.5" y2="36.0" stroke="#48a985" stroke-width="0.8" opacity="0.7"/><rect x="574.5" y="28.0" width="2" height="2.0" fill="#48a985"/><line x1="578.0" y1="27.0" x2="578.0" y2="41.0" stroke="#d04f4f" stroke-width="0.8" opacity="0.7"/><rect x="577.0" y="28.0" width="2" height="12.0" fill="#d04f4f"/><line x1="581.0" y1="37.0" x2="581.0" y2="46.0" stroke="#d04f4f" stroke-width="0.8" opacity="0.7"/><rect x="580.0" y="38.0" width="2" height="7.0" fill="#d04f4f"/><line x1="583.5" y1="39.0" x2="583.5" y2="53.0" stroke="#48a985" stroke-width="0.8" opacity="0.7"/><rect x="582.5" y="40.0" width="2" height="12.0" fill="#48a985"/><line x1="586.0" y1="34.0" x2="586.0" y2="41.0" stroke="#48a985" stroke-width="0.8" opacity="0.7"/><rect x="585.0" y="35.0" width="2" height="5.0" fill="#48a985"/><line x1="588.5" y1="28.0" x2="588.5" y2="32.0" stroke="#48a985" stroke-width="0.8" opacity="0.7"/><rect x="587.5" y="29.0" width="2" height="2.0" fill="#48a985"/><line x1="591.0" y1="25.0" x2="591.0" y2="28.0" stroke="#48a985" stroke-width="0.8" opacity="0.7"/><rect x="590.0" y="25.9" width="2" height="1.2" fill="#48a985"/><line x1="593.5" y1="23.0" x2="593.5" y2="29.0" stroke="#d04f4f" stroke-width="0.8" opacity="0.7"/><rect x="592.5" y="24.0" width="2" height="4.0" fill="#d04f4f"/><line x1="596.0" y1="24.0" x2="596.0" y2="30.0" stroke="#d04f4f" stroke-width="0.8" opacity="0.7"/><rect x="595.0" y="25.0" width="2" height="4.0" fill="#d04f4f"/><line x1="598.5" y1="19.0" x2="598.5" y2="26.0" stroke="#48a985" stroke-width="0.8" opacity="0.7"/><rect x="597.5" y="20.0" width="2" height="5.0" fill="#48a985"/><line x1="601.0" y1="14.0" x2="601.0" y2="21.0" stroke="#48a985" stroke-width="0.8" opacity="0.7"/><rect x="600.0" y="15.0" width="2" height="5.0" fill="#48a985"/><line x1="603.5" y1="12.0" x2="603.5" y2="18.0" stroke="#48a985" stroke-width="0.8" opacity="0.7"/><rect x="602.5" y="13.0" width="2" height="4.0" fill="#48a985"/><line x1="605.5" y1="11.0" x2="605.5" y2="15.0" stroke="#48a985" stroke-width="0.8" opacity="0.7"/><rect x="604.5" y="12.0" width="2" height="2.0" fill="#48a985"/><line x1="357" y1="94.2" x2="603" y2="94.2" stroke="#c94040" stroke-width="2.0"/><line x1="359" y1="142.8" x2="603" y2="142.8" stroke="#c94040" stroke-width="2.0"/><line x1="522" y1="4.3" x2="640" y2="4.3" stroke="#c94040" stroke-width="2.0"/><line x1="520" y1="41.6" x2="640" y2="41.6" stroke="#c94040" stroke-width="2.0"/><polyline points="0,276.3 344,62 405.5,146 449.3,97.3 467.5,184 548.3,7.5 550.6,7.2 557,40 565,5.8 567,6 583.7,61.7" fill="none" stroke="#111" stroke-width="2" stroke-linejoin="miter"/><line x1="352.5" y1="387.1" x2="559" y2="385.4" stroke="#111" stroke-width="1.8"/><text x="0" y="280.3" font-family="Liberation Sans, sans-serif" font-size="5.6" fill="#777" textLength="19" lengthAdjust="spacingAndGlyphs">25800.55</text><text x="0" y="299.8" font-family="Liberation Sans, sans-serif" font-size="5.4" fill="#efbd6e" textLength="32" lengthAdjust="spacingAndGlyphs">VOL(5):12.3000</text><text x="0" y="383.4" font-family="Liberation Sans, sans-serif" font-size="4.6" fill="#7fb0bf" textLength="21" lengthAdjust="spacingAndGlyphs">MACD:28.10</text><text x="360.5" y="138.3" font-family="Liberation Sans, sans-serif" font-size="4.2" fill="#e07a7a" textLength="17.5" lengthAdjust="spacingAndGlyphs">11000.00</text><text x="362" y="89" font-family="Liberation Mono, monospace" font-size="4" fill="#aaa">1180.0 4.1</text><text x="521" y="36.5" font-family="Liberation Sans, sans-serif" font-size="4.2" fill="#e07070" textLength="9" lengthAdjust="spacingAndGlyphs">11500</text><text x="537" y="7" font-family="Liberation Sans, sans-serif" font-size="4" fill="#e08080" textLength="12" lengthAdjust="spacingAndGlyphs">11900.00</text><text x="46.0" y="461.5" font-family="Liberation Sans, sans-serif" font-size="6" fill="#8a8a8a" textLength="10.5" lengthAdjust="spacingAndGlyphs">08:00</text><text x="111.9" y="461.5" font-family="Liberation Sans, sans-serif" font-size="6" fill="#8a8a8a" textLength="10.5" lengthAdjust="spacingAndGlyphs">16:01</text><text x="177.8" y="461.5" font-family="Liberation Sans, sans-serif" font-size="6" fill="#8a8a8a" textLength="10.5" lengthAdjust="spacingAndGlyphs">08:00</text><text x="243.7" y="461.5" font-family="Liberation Sans, sans-serif" font-size="6" fill="#8a8a8a" textLength="10.5" lengthAdjust="spacingAndGlyphs">16:01</text><text x="309.6" y="461.5" font-family="Liberation Sans, sans-serif" font-size="6" fill="#8a8a8a" textLength="10.5" lengthAdjust="spacingAndGlyphs">08:00</text><text x="375.5" y="461.5" font-family="Liberation Sans, sans-serif" font-size="6" fill="#8a8a8a" textLength="10.5" lengthAdjust="spacingAndGlyphs">16:01</text><text x="441.4" y="461.5" font-family="Liberation Sans, sans-serif" font-size="6" fill="#8a8a8a" textLength="10.5" lengthAdjust="spacingAndGlyphs">08:00</text><text x="507.3" y="461.5" font-family="Liberation Sans, sans-serif" font-size="6" fill="#8a8a8a" textLength="10.5" lengthAdjust="spacingAndGlyphs">16:01</text><rect x="545.5" y="456" width="45.3" height="5" fill="#5a5a5a"/><text x="547" y="461" font-family="Liberation Sans, sans-serif" font-size="5.5" fill="#e8e8e8" textLength="42" lengthAdjust="spacingAndGlyphs">2020-11-06 08:00</text></svg>
<div class="t" style="left:51.3px;top:26.3px;font-size:14.4px;transform:scaleX(0.93);transform-origin:0 0;-webkit-text-stroke:0.15px #1a1a1a;">BITSTAMP</div><div class="t" style="left:123.4px;top:24.9px;font-size:13.3px;">一分钟K线</div>
<div class="t" style="left:523.2px;top:110.4px;font-size:13.5px;font-weight:500;">中枢<span style="font-weight:400;font-size:15px">1</span></div>
<div class="t" style="left:602.4px;top:17.1px;font-size:13.5px;font-weight:500;">中枢<span style="font-weight:400;font-size:15px">2</span></div>
<svg width="30" height="30" viewBox="0 0 30 30" style="position:absolute;left:484px;top:414px">
<ellipse cx="12.5" cy="12.5" rx="9" ry="7.5" fill="#fff" stroke="#b5b5b5" stroke-width="0.8" stroke-dasharray="1.2 2"/>
<ellipse cx="18" cy="19" rx="7.2" ry="6.5" fill="#fff" stroke="#a5a5a5" stroke-width="0.8" stroke-dasharray="1.2 2"/>
<circle cx="8.3" cy="9.8" r="1" fill="#666"/><circle cx="14.8" cy="9.8" r="1" fill="#666"/>
<circle cx="16" cy="15.5" r="0.9" fill="#666"/><circle cx="21.5" cy="15.5" r="0.9" fill="#666"/>
</svg>
<div class="wm" style="left:519px;top:418px;font-size:15.2px;font-weight:500;">吴说区块链<span style="margin-left:-2.5px;font-weight:400">real</span></div>
</div></body></html>
